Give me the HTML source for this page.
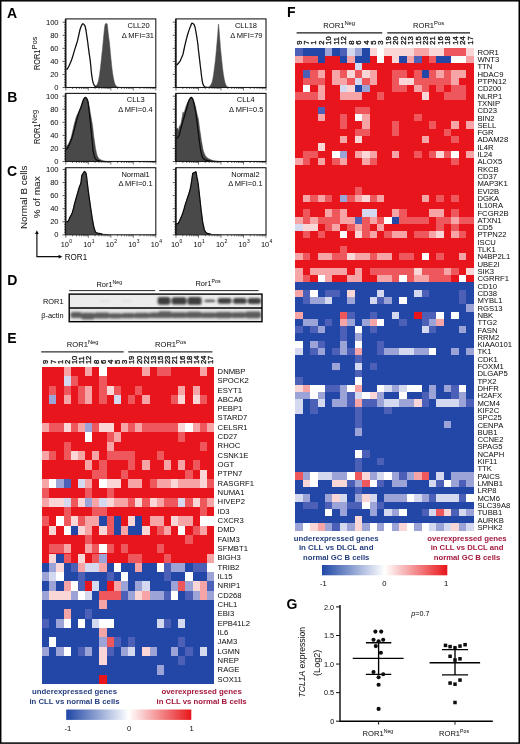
<!DOCTYPE html>
<html lang="en"><head><meta charset="utf-8"><title>ROR1 figure</title>
<style>html,body{margin:0;padding:0;background:#fff}svg{display:block}</style></head>
<body>
<svg width="520" height="744" viewBox="0 0 520 744" font-family='"Liberation Sans", Arial, Helvetica, sans-serif'>
<defs><filter id="soft" filterUnits="userSpaceOnUse" x="2" y="2" width="516" height="740"><feGaussianBlur stdDeviation="0.38"/></filter><filter id="bl" x="-10%" y="-50%" width="120%" height="200%"><feGaussianBlur stdDeviation="0.95"/></filter><linearGradient id="cb" x1="0" x2="1" y1="0" y2="0"><stop offset="0" stop-color="#2047a6"/><stop offset="0.5" stop-color="#ffffff"/><stop offset="1" stop-color="#e8161a"/></linearGradient></defs>
<rect x="0" y="0" width="520" height="744" fill="#ffffff"/>
<rect x="0.7" y="0.8" width="518.55" height="742.3" fill="none" stroke="#000" stroke-width="1.5"/>
<g filter="url(#soft)">
<text x="7.00" y="17.80" font-size="14" font-weight="bold" fill="#000">A</text>
<text x="7.30" y="102.30" font-size="14" font-weight="bold" fill="#000">B</text>
<text x="7.00" y="176.30" font-size="14" font-weight="bold" fill="#000">C</text>
<text x="7.30" y="285.30" font-size="14" font-weight="bold" fill="#000">D</text>
<text x="7.30" y="342.50" font-size="14" font-weight="bold" fill="#000">E</text>
<text x="287.00" y="17.40" font-size="14" font-weight="bold" fill="#000">F</text>
<text x="286.50" y="609.00" font-size="14" font-weight="bold" fill="#000">G</text>
<clipPath id="cpA1"><rect x="65.8" y="18.9" width="90.0" height="68.6"/></clipPath>
<g clip-path="url(#cpA1)">
<path d="M93.0,87.6 L95.4,86.5 L96.7,85.2 L97.8,83.0 L98.7,79.5 L99.5,75.0 L100.4,68.0 L101.2,61.1 L101.8,55.0 L102.4,49.6 L103.0,43.5 L103.5,38.0 L104.1,32.0 L104.7,26.5 L105.2,24.2 L105.8,23.4 L106.6,23.4 L107.2,24.2 L107.7,28.0 L108.1,32.3 L108.7,37.0 L109.3,41.5 L109.9,47.0 L110.4,53.0 L111.1,60.0 L111.8,66.9 L112.5,72.5 L113.3,77.3 L114.1,81.2 L115.0,84.2 L116.2,86.0 L117.6,86.9 L120.0,87.6 Z" fill="#4a4a4a" stroke="#4a4a4a" stroke-width="0.5" stroke-linejoin="round"/>
<path d="M66.3,69.0 L67.4,69.0 L69.2,65.5 L71.2,61.1 L73.0,55.5 L74.7,49.6 L76.2,45.0 L77.6,40.4 L78.8,35.0 L79.9,30.0 L80.8,27.2 L81.6,25.4 L82.4,24.2 L83.0,23.6 L84.1,24.6 L85.1,26.2 L86.0,30.5 L86.8,35.8 L87.7,42.0 L88.5,48.4 L89.4,54.8 L90.3,61.1 L90.9,67.0 L91.4,72.7 L92.0,77.0 L92.6,80.7 L93.4,83.5 L94.3,85.4 L95.4,86.5 L96.6,87.1 L99.0,87.3" fill="none" stroke="#0a0a0a" stroke-width="1.25" stroke-linejoin="round"/>
</g>
<rect x="65.8" y="18.9" width="90.0" height="68.6" fill="none" stroke="#1a1a1a" stroke-width="1.1"/>
<path d="M65.5,18.9V87.5" stroke="#1a1a1a" stroke-width="1.5"/>
<path d="M62.6,87.50H65.8M64.2,84.89H65.8M64.2,82.28H65.8M64.2,79.66H65.8M64.2,77.05H65.8M62.6,74.44H65.8M64.2,71.83H65.8M64.2,69.22H65.8M64.2,66.60H65.8M64.2,63.99H65.8M62.6,61.38H65.8M64.2,58.77H65.8M64.2,56.16H65.8M64.2,53.54H65.8M64.2,50.93H65.8M62.6,48.32H65.8M64.2,45.71H65.8M64.2,43.10H65.8M64.2,40.48H65.8M64.2,37.87H65.8M62.6,35.26H65.8M64.2,32.65H65.8M64.2,30.04H65.8M64.2,27.42H65.8M64.2,24.81H65.8M62.6,22.20H65.8" stroke="#1a1a1a" stroke-width="0.7" fill="none"/>
<path d="M65.80,87.5v3.0M72.57,87.5v1.5M76.54,87.5v1.5M79.35,87.5v1.5M81.53,87.5v1.5M83.31,87.5v1.5M84.81,87.5v1.5M86.12,87.5v1.5M87.27,87.5v1.5M88.30,87.5v3.0M95.07,87.5v1.5M99.04,87.5v1.5M101.85,87.5v1.5M104.03,87.5v1.5M105.81,87.5v1.5M107.31,87.5v1.5M108.62,87.5v1.5M109.77,87.5v1.5M110.80,87.5v3.0M117.57,87.5v1.5M121.54,87.5v1.5M124.35,87.5v1.5M126.53,87.5v1.5M128.31,87.5v1.5M129.81,87.5v1.5M131.12,87.5v1.5M132.27,87.5v1.5M133.30,87.5v3.0M140.07,87.5v1.5M144.04,87.5v1.5M146.85,87.5v1.5M149.03,87.5v1.5M150.81,87.5v1.5M152.31,87.5v1.5M153.62,87.5v1.5M154.77,87.5v1.5M155.80,87.5v3" stroke="#1a1a1a" stroke-width="0.6" fill="none"/>
<text x="58.60" y="89.95" font-size="7.6" text-anchor="end" fill="#0c0c0c">0</text>
<text x="58.60" y="76.89" font-size="7.6" text-anchor="end" fill="#0c0c0c">20</text>
<text x="58.60" y="63.83" font-size="7.6" text-anchor="end" fill="#0c0c0c">40</text>
<text x="58.60" y="50.77" font-size="7.6" text-anchor="end" fill="#0c0c0c">60</text>
<text x="58.60" y="37.71" font-size="7.6" text-anchor="end" fill="#0c0c0c">80</text>
<text x="58.60" y="24.65" font-size="7.6" text-anchor="end" fill="#0c0c0c">100</text>
<text x="149.60" y="27.80" font-size="7.5" text-anchor="end" fill="#0c0c0c">CLL20</text>
<text x="154.00" y="37.50" font-size="7.5" text-anchor="end" fill="#0c0c0c">Δ MFI=31</text>
<clipPath id="cpA2"><rect x="176.0" y="18.9" width="90.0" height="68.6"/></clipPath>
<g clip-path="url(#cpA2)">
<path d="M206.5,87.6 L208.9,87.0 L210.4,85.4 L211.8,83.0 L212.7,79.5 L213.5,75.0 L214.4,68.0 L215.3,61.1 L215.9,55.0 L216.4,49.6 L217.0,42.5 L217.6,35.8 L218.1,29.0 L218.5,24.0 L219.0,29.0 L219.5,35.8 L220.0,41.5 L220.4,47.3 L221.1,54.0 L221.8,61.1 L222.5,67.5 L223.3,73.8 L224.2,79.0 L225.1,83.0 L226.2,85.6 L227.4,87.0 L229.5,87.6 Z" fill="#4a4a4a" stroke="#4a4a4a" stroke-width="0.5" stroke-linejoin="round"/>
<path d="M176.0,64.8 L177.2,64.6 L178.6,63.0 L180.1,61.1 L181.6,57.8 L183.0,54.2 L183.9,50.0 L184.7,46.1 L185.6,42.5 L186.4,39.2 L187.5,35.0 L188.7,31.1 L189.6,28.6 L190.5,26.5 L191.2,24.5 L191.8,23.2 L193.2,23.6 L194.5,25.4 L195.1,27.5 L195.6,30.0 L196.2,33.3 L196.8,36.9 L197.4,41.0 L198.0,45.0 L198.3,49.0 L199.1,55.4 L199.7,60.5 L200.3,65.7 L200.9,70.5 L201.4,75.0 L202.0,79.3 L202.6,83.0 L203.4,85.2 L204.3,86.5 L205.4,87.2 L208.0,87.5" fill="none" stroke="#0a0a0a" stroke-width="1.25" stroke-linejoin="round"/>
</g>
<rect x="176.0" y="18.9" width="90.0" height="68.6" fill="none" stroke="#1a1a1a" stroke-width="1.1"/>
<path d="M175.7,18.9V87.5" stroke="#1a1a1a" stroke-width="1.5"/>
<path d="M172.8,87.50H176.0M174.4,84.89H176.0M174.4,82.28H176.0M174.4,79.66H176.0M174.4,77.05H176.0M172.8,74.44H176.0M174.4,71.83H176.0M174.4,69.22H176.0M174.4,66.60H176.0M174.4,63.99H176.0M172.8,61.38H176.0M174.4,58.77H176.0M174.4,56.16H176.0M174.4,53.54H176.0M174.4,50.93H176.0M172.8,48.32H176.0M174.4,45.71H176.0M174.4,43.10H176.0M174.4,40.48H176.0M174.4,37.87H176.0M172.8,35.26H176.0M174.4,32.65H176.0M174.4,30.04H176.0M174.4,27.42H176.0M174.4,24.81H176.0M172.8,22.20H176.0" stroke="#1a1a1a" stroke-width="0.7" fill="none"/>
<path d="M176.00,87.5v3.0M182.77,87.5v1.5M186.74,87.5v1.5M189.55,87.5v1.5M191.73,87.5v1.5M193.51,87.5v1.5M195.01,87.5v1.5M196.32,87.5v1.5M197.47,87.5v1.5M198.50,87.5v3.0M205.27,87.5v1.5M209.24,87.5v1.5M212.05,87.5v1.5M214.23,87.5v1.5M216.01,87.5v1.5M217.51,87.5v1.5M218.82,87.5v1.5M219.97,87.5v1.5M221.00,87.5v3.0M227.77,87.5v1.5M231.74,87.5v1.5M234.55,87.5v1.5M236.73,87.5v1.5M238.51,87.5v1.5M240.01,87.5v1.5M241.32,87.5v1.5M242.47,87.5v1.5M243.50,87.5v3.0M250.27,87.5v1.5M254.24,87.5v1.5M257.05,87.5v1.5M259.23,87.5v1.5M261.01,87.5v1.5M262.51,87.5v1.5M263.82,87.5v1.5M264.97,87.5v1.5M266.00,87.5v3" stroke="#1a1a1a" stroke-width="0.6" fill="none"/>
<text x="257.00" y="27.80" font-size="7.5" text-anchor="end" fill="#0c0c0c">CLL18</text>
<text x="262.50" y="37.50" font-size="7.5" text-anchor="end" fill="#0c0c0c">Δ MFI=79</text>
<clipPath id="cpB1"><rect x="65.8" y="93.4" width="90.0" height="68.1"/></clipPath>
<g clip-path="url(#cpB1)">
<path d="M66.3,161.8 L66.3,146.5 L68.3,144.2 L69.8,141.0 L71.2,137.3 L72.7,131.0 L74.1,124.6 L75.3,120.3 L76.4,116.5 L77.6,114.0 L78.7,111.9 L79.9,109.0 L81.0,106.1 L82.2,102.5 L83.3,99.2 L84.2,97.8 L85.1,97.1 L86.0,97.4 L86.8,98.1 L87.7,100.0 L88.5,102.7 L89.4,107.5 L90.3,113.1 L91.3,118.3 L92.2,123.4 L93.0,129.5 L93.7,136.1 L94.6,142.0 L95.4,147.7 L96.3,152.2 L97.2,155.7 L98.3,157.8 L99.5,159.2 L102.4,160.6 L105.8,161.3 L109.0,161.8 Z" fill="#4a4a4a" stroke="#4a4a4a" stroke-width="0.5" stroke-linejoin="round"/>
<path d="M66.3,150.0 L67.6,148.0 L68.9,145.4 L70.4,142.0 L71.8,138.4 L73.0,134.5 L74.1,130.4 L75.3,125.8 L76.4,121.1 L77.6,117.0 L78.7,113.1 L79.9,110.0 L81.0,107.3 L81.9,104.5 L82.8,101.5 L83.7,99.4 L84.5,98.0 L85.4,97.5 L86.2,97.8 L87.1,99.3 L88.0,101.8 L88.7,107.0 L89.4,113.1 L90.1,120.0 L90.8,126.9 L91.4,133.0 L92.0,139.6 L92.6,145.5 L93.1,151.1 L94.0,155.2 L94.9,158.0 L96.0,159.5 L97.2,160.4 L100.6,161.2" fill="none" stroke="#0a0a0a" stroke-width="1.25" stroke-linejoin="round"/>
</g>
<rect x="65.8" y="93.4" width="90.0" height="68.1" fill="none" stroke="#1a1a1a" stroke-width="1.1"/>
<path d="M65.5,93.4V161.5" stroke="#1a1a1a" stroke-width="1.5"/>
<path d="M62.6,161.50H65.8M64.2,158.89H65.8M64.2,156.28H65.8M64.2,153.66H65.8M64.2,151.05H65.8M62.6,148.44H65.8M64.2,145.83H65.8M64.2,143.22H65.8M64.2,140.60H65.8M64.2,137.99H65.8M62.6,135.38H65.8M64.2,132.77H65.8M64.2,130.16H65.8M64.2,127.54H65.8M64.2,124.93H65.8M62.6,122.32H65.8M64.2,119.71H65.8M64.2,117.10H65.8M64.2,114.48H65.8M64.2,111.87H65.8M62.6,109.26H65.8M64.2,106.65H65.8M64.2,104.04H65.8M64.2,101.42H65.8M64.2,98.81H65.8M62.6,96.20H65.8" stroke="#1a1a1a" stroke-width="0.7" fill="none"/>
<path d="M65.80,161.5v3.0M72.57,161.5v1.5M76.54,161.5v1.5M79.35,161.5v1.5M81.53,161.5v1.5M83.31,161.5v1.5M84.81,161.5v1.5M86.12,161.5v1.5M87.27,161.5v1.5M88.30,161.5v3.0M95.07,161.5v1.5M99.04,161.5v1.5M101.85,161.5v1.5M104.03,161.5v1.5M105.81,161.5v1.5M107.31,161.5v1.5M108.62,161.5v1.5M109.77,161.5v1.5M110.80,161.5v3.0M117.57,161.5v1.5M121.54,161.5v1.5M124.35,161.5v1.5M126.53,161.5v1.5M128.31,161.5v1.5M129.81,161.5v1.5M131.12,161.5v1.5M132.27,161.5v1.5M133.30,161.5v3.0M140.07,161.5v1.5M144.04,161.5v1.5M146.85,161.5v1.5M149.03,161.5v1.5M150.81,161.5v1.5M152.31,161.5v1.5M153.62,161.5v1.5M154.77,161.5v1.5M155.80,161.5v3" stroke="#1a1a1a" stroke-width="0.6" fill="none"/>
<text x="58.60" y="163.95" font-size="7.6" text-anchor="end" fill="#0c0c0c">0</text>
<text x="58.60" y="150.89" font-size="7.6" text-anchor="end" fill="#0c0c0c">20</text>
<text x="58.60" y="137.83" font-size="7.6" text-anchor="end" fill="#0c0c0c">40</text>
<text x="58.60" y="124.77" font-size="7.6" text-anchor="end" fill="#0c0c0c">60</text>
<text x="58.60" y="111.71" font-size="7.6" text-anchor="end" fill="#0c0c0c">80</text>
<text x="58.60" y="98.65" font-size="7.6" text-anchor="end" fill="#0c0c0c">100</text>
<text x="144.80" y="102.30" font-size="7.5" text-anchor="end" fill="#0c0c0c">CLL3</text>
<text x="152.60" y="112.00" font-size="7.5" text-anchor="end" fill="#0c0c0c">Δ MFI=0.4</text>
<clipPath id="cpB2"><rect x="176.0" y="93.4" width="90.0" height="68.1"/></clipPath>
<g clip-path="url(#cpB2)">
<path d="M176.0,161.8 L176.0,129.2 L177.8,128.0 L178.4,131.0 L179.5,125.8 L180.3,126.0 L181.2,122.3 L182.2,117.0 L183.0,111.9 L183.8,113.5 L184.7,110.8 L185.8,107.0 L187.0,103.8 L188.2,101.2 L189.3,99.2 L190.2,97.9 L191.0,97.1 L191.9,97.6 L192.8,98.7 L194.0,101.5 L195.1,105.0 L196.0,109.0 L196.8,113.1 L197.7,116.5 L198.5,120.0 L199.1,124.5 L199.7,129.2 L200.6,135.0 L201.4,140.8 L202.3,145.5 L203.1,150.0 L204.2,153.2 L205.4,155.7 L206.8,157.4 L208.3,158.6 L212.4,160.4 L218.1,161.3 L222.0,161.8 Z" fill="#4a4a4a" stroke="#4a4a4a" stroke-width="0.5" stroke-linejoin="round"/>
<path d="M176.0,138.6 L177.6,137.6 L178.9,136.1 L179.8,133.0 L180.7,129.2 L181.8,125.0 L183.0,121.1 L184.2,117.0 L185.3,113.1 L186.5,109.0 L187.6,105.0 L188.5,102.0 L189.3,99.8 L190.2,98.2 L191.0,97.4 L191.9,97.9 L192.8,99.2 L193.7,102.3 L194.5,106.1 L195.4,110.5 L196.2,115.4 L196.9,121.0 L197.6,126.9 L198.4,133.0 L199.1,139.6 L199.9,145.0 L200.6,150.0 L201.4,154.0 L202.2,156.9 L203.5,158.8 L204.9,159.8 L208.9,160.9 L213.0,161.3" fill="none" stroke="#0a0a0a" stroke-width="1.25" stroke-linejoin="round"/>
</g>
<rect x="176.0" y="93.4" width="90.0" height="68.1" fill="none" stroke="#1a1a1a" stroke-width="1.1"/>
<path d="M175.7,93.4V161.5" stroke="#1a1a1a" stroke-width="1.5"/>
<path d="M172.8,161.50H176.0M174.4,158.89H176.0M174.4,156.28H176.0M174.4,153.66H176.0M174.4,151.05H176.0M172.8,148.44H176.0M174.4,145.83H176.0M174.4,143.22H176.0M174.4,140.60H176.0M174.4,137.99H176.0M172.8,135.38H176.0M174.4,132.77H176.0M174.4,130.16H176.0M174.4,127.54H176.0M174.4,124.93H176.0M172.8,122.32H176.0M174.4,119.71H176.0M174.4,117.10H176.0M174.4,114.48H176.0M174.4,111.87H176.0M172.8,109.26H176.0M174.4,106.65H176.0M174.4,104.04H176.0M174.4,101.42H176.0M174.4,98.81H176.0M172.8,96.20H176.0" stroke="#1a1a1a" stroke-width="0.7" fill="none"/>
<path d="M176.00,161.5v3.0M182.77,161.5v1.5M186.74,161.5v1.5M189.55,161.5v1.5M191.73,161.5v1.5M193.51,161.5v1.5M195.01,161.5v1.5M196.32,161.5v1.5M197.47,161.5v1.5M198.50,161.5v3.0M205.27,161.5v1.5M209.24,161.5v1.5M212.05,161.5v1.5M214.23,161.5v1.5M216.01,161.5v1.5M217.51,161.5v1.5M218.82,161.5v1.5M219.97,161.5v1.5M221.00,161.5v3.0M227.77,161.5v1.5M231.74,161.5v1.5M234.55,161.5v1.5M236.73,161.5v1.5M238.51,161.5v1.5M240.01,161.5v1.5M241.32,161.5v1.5M242.47,161.5v1.5M243.50,161.5v3.0M250.27,161.5v1.5M254.24,161.5v1.5M257.05,161.5v1.5M259.23,161.5v1.5M261.01,161.5v1.5M262.51,161.5v1.5M263.82,161.5v1.5M264.97,161.5v1.5M266.00,161.5v3" stroke="#1a1a1a" stroke-width="0.6" fill="none"/>
<text x="254.80" y="102.30" font-size="7.5" text-anchor="end" fill="#0c0c0c">CLL4</text>
<text x="263.40" y="112.00" font-size="7.5" text-anchor="end" fill="#0c0c0c">Δ MFI=0.5</text>
<clipPath id="cpC1"><rect x="65.8" y="167.7" width="90.0" height="67.10000000000002"/></clipPath>
<g clip-path="url(#cpC1)">
<path d="M66.3,234.8 L66.3,221.7 L67.8,221.7 L69.0,219.5 L70.1,217.1 L71.3,214.8 L72.4,212.4 L73.6,208.0 L74.7,203.2 L75.9,199.0 L77.0,195.1 L78.2,191.0 L79.3,187.1 L80.2,185.0 L81.0,182.5 L81.4,179.0 L81.8,175.5 L82.6,174.2 L83.3,173.2 L83.9,172.2 L84.5,171.4 L85.4,172.3 L86.2,173.8 L86.7,177.5 L87.1,181.3 L87.8,187.0 L88.5,192.8 L89.4,199.0 L90.3,205.5 L91.2,211.5 L92.0,217.1 L92.9,222.0 L93.7,226.3 L94.6,229.5 L95.4,232.0 L96.6,232.8 L97.8,233.2 L102.4,234.1 L108.1,234.6 Z" fill="#4a4a4a" stroke="#4a4a4a" stroke-width="0.5" stroke-linejoin="round"/>
<path d="M66.3,221.7 L67.8,221.7 L69.0,219.5 L70.1,217.1 L71.3,214.8 L72.4,212.4 L73.6,208.0 L74.7,203.2 L75.9,199.0 L77.0,195.1 L78.2,191.0 L79.3,187.1 L80.2,185.0 L81.0,182.5 L81.4,179.0 L81.8,175.5 L82.6,174.2 L83.3,173.2 L83.9,172.2 L84.5,171.4 L85.4,172.3 L86.2,173.8 L86.7,177.5 L87.1,181.3 L87.8,187.0 L88.5,192.8 L89.4,199.0 L90.3,205.5 L91.2,211.5 L92.0,217.1 L92.9,222.0 L93.7,226.3 L94.6,229.5 L95.4,232.0 L96.6,232.8 L97.8,233.2 L102.4,234.1" fill="none" stroke="#0a0a0a" stroke-width="1.25" stroke-linejoin="round"/>
</g>
<rect x="65.8" y="167.7" width="90.0" height="67.10000000000002" fill="none" stroke="#1a1a1a" stroke-width="1.1"/>
<path d="M65.5,167.7V234.8" stroke="#1a1a1a" stroke-width="1.5"/>
<path d="M62.6,234.80H65.8M64.2,232.19H65.8M64.2,229.58H65.8M64.2,226.96H65.8M64.2,224.35H65.8M62.6,221.74H65.8M64.2,219.13H65.8M64.2,216.52H65.8M64.2,213.90H65.8M64.2,211.29H65.8M62.6,208.68H65.8M64.2,206.07H65.8M64.2,203.46H65.8M64.2,200.84H65.8M64.2,198.23H65.8M62.6,195.62H65.8M64.2,193.01H65.8M64.2,190.40H65.8M64.2,187.78H65.8M64.2,185.17H65.8M62.6,182.56H65.8M64.2,179.95H65.8M64.2,177.34H65.8M64.2,174.72H65.8M64.2,172.11H65.8M62.6,169.50H65.8" stroke="#1a1a1a" stroke-width="0.7" fill="none"/>
<path d="M65.80,234.8v3.0M72.57,234.8v1.5M76.54,234.8v1.5M79.35,234.8v1.5M81.53,234.8v1.5M83.31,234.8v1.5M84.81,234.8v1.5M86.12,234.8v1.5M87.27,234.8v1.5M88.30,234.8v3.0M95.07,234.8v1.5M99.04,234.8v1.5M101.85,234.8v1.5M104.03,234.8v1.5M105.81,234.8v1.5M107.31,234.8v1.5M108.62,234.8v1.5M109.77,234.8v1.5M110.80,234.8v3.0M117.57,234.8v1.5M121.54,234.8v1.5M124.35,234.8v1.5M126.53,234.8v1.5M128.31,234.8v1.5M129.81,234.8v1.5M131.12,234.8v1.5M132.27,234.8v1.5M133.30,234.8v3.0M140.07,234.8v1.5M144.04,234.8v1.5M146.85,234.8v1.5M149.03,234.8v1.5M150.81,234.8v1.5M152.31,234.8v1.5M153.62,234.8v1.5M154.77,234.8v1.5M155.80,234.8v3" stroke="#1a1a1a" stroke-width="0.6" fill="none"/>
<text x="58.60" y="237.25" font-size="7.6" text-anchor="end" fill="#0c0c0c">0</text>
<text x="58.60" y="224.19" font-size="7.6" text-anchor="end" fill="#0c0c0c">20</text>
<text x="58.60" y="211.13" font-size="7.6" text-anchor="end" fill="#0c0c0c">40</text>
<text x="58.60" y="198.07" font-size="7.6" text-anchor="end" fill="#0c0c0c">60</text>
<text x="58.60" y="185.01" font-size="7.6" text-anchor="end" fill="#0c0c0c">80</text>
<text x="58.60" y="171.95" font-size="7.6" text-anchor="end" fill="#0c0c0c">100</text>
<text x="149.80" y="176.60" font-size="7.5" text-anchor="end" fill="#0c0c0c">Normal1</text>
<text x="152.80" y="186.30" font-size="7.5" text-anchor="end" fill="#0c0c0c">Δ MFI=0.1</text>
<clipPath id="cpC2"><rect x="176.0" y="167.7" width="90.0" height="67.10000000000002"/></clipPath>
<g clip-path="url(#cpC2)">
<path d="M176.0,234.8 L176.0,224.0 L178.3,223.4 L179.5,221.0 L180.7,218.2 L181.9,215.5 L183.0,212.4 L184.2,208.5 L185.3,204.4 L186.5,201.0 L187.6,197.4 L188.8,194.0 L189.9,190.5 L190.8,186.0 L191.6,181.3 L192.2,177.0 L192.8,173.2 L193.7,172.8 L194.5,172.7 L195.2,172.1 L195.9,171.7 L196.4,174.0 L196.8,176.7 L197.6,180.5 L198.3,184.8 L199.0,191.0 L199.7,197.4 L200.4,203.5 L201.1,210.1 L201.9,216.0 L202.6,221.7 L203.5,226.0 L204.3,229.7 L205.5,231.8 L206.6,233.2 L211.2,234.4 L218.1,234.6 Z" fill="#4a4a4a" stroke="#4a4a4a" stroke-width="0.5" stroke-linejoin="round"/>
<path d="M176.0,224.0 L178.3,223.4 L179.5,221.0 L180.7,218.2 L181.9,215.5 L183.0,212.4 L184.2,208.5 L185.3,204.4 L186.5,201.0 L187.6,197.4 L188.8,194.0 L189.9,190.5 L190.8,186.0 L191.6,181.3 L192.2,177.0 L192.8,173.2 L193.7,172.8 L194.5,172.7 L195.2,172.1 L195.9,171.7 L196.4,174.0 L196.8,176.7 L197.6,180.5 L198.3,184.8 L199.0,191.0 L199.7,197.4 L200.4,203.5 L201.1,210.1 L201.9,216.0 L202.6,221.7 L203.5,226.0 L204.3,229.7 L205.5,231.8 L206.6,233.2 L211.2,234.4" fill="none" stroke="#0a0a0a" stroke-width="1.25" stroke-linejoin="round"/>
</g>
<rect x="176.0" y="167.7" width="90.0" height="67.10000000000002" fill="none" stroke="#1a1a1a" stroke-width="1.1"/>
<path d="M175.7,167.7V234.8" stroke="#1a1a1a" stroke-width="1.5"/>
<path d="M172.8,234.80H176.0M174.4,232.19H176.0M174.4,229.58H176.0M174.4,226.96H176.0M174.4,224.35H176.0M172.8,221.74H176.0M174.4,219.13H176.0M174.4,216.52H176.0M174.4,213.90H176.0M174.4,211.29H176.0M172.8,208.68H176.0M174.4,206.07H176.0M174.4,203.46H176.0M174.4,200.84H176.0M174.4,198.23H176.0M172.8,195.62H176.0M174.4,193.01H176.0M174.4,190.40H176.0M174.4,187.78H176.0M174.4,185.17H176.0M172.8,182.56H176.0M174.4,179.95H176.0M174.4,177.34H176.0M174.4,174.72H176.0M174.4,172.11H176.0M172.8,169.50H176.0" stroke="#1a1a1a" stroke-width="0.7" fill="none"/>
<path d="M176.00,234.8v3.0M182.77,234.8v1.5M186.74,234.8v1.5M189.55,234.8v1.5M191.73,234.8v1.5M193.51,234.8v1.5M195.01,234.8v1.5M196.32,234.8v1.5M197.47,234.8v1.5M198.50,234.8v3.0M205.27,234.8v1.5M209.24,234.8v1.5M212.05,234.8v1.5M214.23,234.8v1.5M216.01,234.8v1.5M217.51,234.8v1.5M218.82,234.8v1.5M219.97,234.8v1.5M221.00,234.8v3.0M227.77,234.8v1.5M231.74,234.8v1.5M234.55,234.8v1.5M236.73,234.8v1.5M238.51,234.8v1.5M240.01,234.8v1.5M241.32,234.8v1.5M242.47,234.8v1.5M243.50,234.8v3.0M250.27,234.8v1.5M254.24,234.8v1.5M257.05,234.8v1.5M259.23,234.8v1.5M261.01,234.8v1.5M262.51,234.8v1.5M263.82,234.8v1.5M264.97,234.8v1.5M266.00,234.8v3" stroke="#1a1a1a" stroke-width="0.6" fill="none"/>
<text x="259.60" y="176.60" font-size="7.5" text-anchor="end" fill="#0c0c0c">Normal2</text>
<text x="262.60" y="186.30" font-size="7.5" text-anchor="end" fill="#0c0c0c">Δ MFI=0.1</text>
<text x="60.70" y="246.6" font-size="7.4" fill="#0c0c0c">10<tspan dy="-3.3" dx="0.3" font-size="5">0</tspan></text>
<text x="83.20" y="246.6" font-size="7.4" fill="#0c0c0c">10<tspan dy="-3.3" dx="0.3" font-size="5">1</tspan></text>
<text x="105.70" y="246.6" font-size="7.4" fill="#0c0c0c">10<tspan dy="-3.3" dx="0.3" font-size="5">2</tspan></text>
<text x="128.20" y="246.6" font-size="7.4" fill="#0c0c0c">10<tspan dy="-3.3" dx="0.3" font-size="5">3</tspan></text>
<text x="150.70" y="246.6" font-size="7.4" fill="#0c0c0c">10<tspan dy="-3.3" dx="0.3" font-size="5">4</tspan></text>
<text x="170.90" y="246.6" font-size="7.4" fill="#0c0c0c">10<tspan dy="-3.3" dx="0.3" font-size="5">0</tspan></text>
<text x="193.40" y="246.6" font-size="7.4" fill="#0c0c0c">10<tspan dy="-3.3" dx="0.3" font-size="5">1</tspan></text>
<text x="215.90" y="246.6" font-size="7.4" fill="#0c0c0c">10<tspan dy="-3.3" dx="0.3" font-size="5">2</tspan></text>
<text x="238.40" y="246.6" font-size="7.4" fill="#0c0c0c">10<tspan dy="-3.3" dx="0.3" font-size="5">3</tspan></text>
<text x="260.90" y="246.6" font-size="7.4" fill="#0c0c0c">10<tspan dy="-3.3" dx="0.3" font-size="5">4</tspan></text>
<text transform="translate(40.3,70.0) rotate(-90)" font-size="9.3" fill="#0c0c0c" textLength="20.4" lengthAdjust="spacingAndGlyphs">ROR1</text>
<text transform="translate(36.6,49.2) rotate(-90)" font-size="6.9" fill="#0c0c0c" textLength="12.6" lengthAdjust="spacingAndGlyphs">Pos</text>
<text transform="translate(40.3,144.0) rotate(-90)" font-size="9.3" fill="#0c0c0c" textLength="20.4" lengthAdjust="spacingAndGlyphs">ROR1</text>
<text transform="translate(36.6,123.19999999999999) rotate(-90)" font-size="6.9" fill="#0c0c0c" textLength="13.2" lengthAdjust="spacingAndGlyphs">Neg</text>
<text transform="translate(27.20,197.30) rotate(-90)" font-size="9.3" text-anchor="middle" textLength="63.60" lengthAdjust="spacingAndGlyphs" fill="#0c0c0c">Normal B cells</text>
<text transform="translate(40.00,197.30) rotate(-90)" font-size="9.2" text-anchor="middle" textLength="42.00" lengthAdjust="spacingAndGlyphs" fill="#0c0c0c">% of max</text>
<path d="M36.9,233V256.7H59.5" fill="none" stroke="#111" stroke-width="1.2"/>
<path d="M36.9,230.2l-1.9,3.8h3.8z M62.4,256.7l-3.8,-1.9v3.8z" fill="#111"/>
<text x="64.80" y="260.20" font-size="9.4" textLength="22.30" lengthAdjust="spacingAndGlyphs" fill="#0c0c0c">ROR1</text>
<text x="96.50" y="286.60" font-size="7.4" fill="#0c0c0c">Ror1<tspan dy="-3" font-size="5.2">Neg</tspan></text>
<text x="195.50" y="286.40" font-size="7.4" fill="#0c0c0c">Ror1<tspan dy="-3" font-size="5.2">Pos</tspan></text>
<path d="M69.2,290.6H155.2M159.2,290.6H258.5" stroke="#111" stroke-width="0.9" fill="none"/>
<text x="63.50" y="303.90" font-size="7.4" text-anchor="end" fill="#0c0c0c">ROR1</text>
<text x="63.50" y="317.90" font-size="7.4" text-anchor="end" fill="#0c0c0c">β-actin</text>
<clipPath id="cpD1"><rect x="69.2" y="294.1" width="192.8" height="13.9"/></clipPath>
<clipPath id="cpD2"><rect x="69.2" y="308" width="192.8" height="13.7"/></clipPath>
<rect x="69.2" y="294.1" width="192.8" height="13.9" fill="#ececec"/>
<rect x="69.2" y="308" width="192.8" height="13.7" fill="#e4e4e4"/>
<g clip-path="url(#cpD1)" filter="url(#bl)">
<rect x="157.6" y="297.10" width="12.8" height="7.6" rx="2.6" fill="#3c3c3c"/>
<rect x="171.6" y="297.20" width="15.0" height="7.4" rx="2.6" fill="#3c3c3c"/>
<rect x="187.6" y="297.00" width="14.0" height="7.8" rx="2.6" fill="#3c3c3c"/>
<rect x="204.6" y="299.70" width="10.4" height="2.4" rx="1.2" fill="#4a4a4a"/>
<rect x="217.6" y="298.10" width="14.0" height="5.6" rx="2.6" fill="#404040"/>
<rect x="233" y="298.00" width="13.6" height="5.8" rx="2.6" fill="#404040"/>
<rect x="247.6" y="297.90" width="13.4" height="6.0" rx="2.6" fill="#404040"/>
<rect x="100" y="300.2" width="10" height="1.6" fill="#dcdcdc"/>
<rect x="122" y="300.2" width="9" height="1.6" fill="#dcdcdc"/>
</g>
<g clip-path="url(#cpD2)" filter="url(#bl)">
<rect x="70.5" y="312.10" width="11.5" height="6.0" rx="2.6" fill="#5c5c5c"/>
<rect x="81" y="312.80" width="14.0" height="6.6" rx="2.6" fill="#5c5c5c"/>
<rect x="94" y="312.60" width="16.0" height="5.8" rx="2.6" fill="#5c5c5c"/>
<rect x="109" y="313.30" width="13.0" height="5.199999999999999" rx="2.6" fill="#5c5c5c"/>
<rect x="121" y="313.10" width="14.0" height="5.199999999999999" rx="2.6" fill="#5c5c5c"/>
<rect x="134" y="312.70" width="16.0" height="5.6" rx="2.6" fill="#5c5c5c"/>
<rect x="149" y="312.50" width="11.0" height="5.6" rx="2.6" fill="#5c5c5c"/>
<rect x="158" y="311.30" width="14.0" height="6.8" rx="2.6" fill="#5c5c5c"/>
<rect x="171" y="312.20" width="16.0" height="5.8" rx="2.6" fill="#5c5c5c"/>
<rect x="186" y="311.70" width="16.0" height="6.3999999999999995" rx="2.6" fill="#5c5c5c"/>
<rect x="201" y="312.50" width="15.0" height="5.6" rx="2.6" fill="#5c5c5c"/>
<rect x="215" y="312.00" width="17.0" height="6.199999999999999" rx="2.6" fill="#5c5c5c"/>
<rect x="231" y="312.20" width="15.0" height="5.8" rx="2.6" fill="#5c5c5c"/>
<rect x="245" y="311.60" width="16.0" height="6.6" rx="2.6" fill="#5c5c5c"/>
</g>
<rect x="69.2" y="294.1" width="192.8" height="27.6" fill="none" stroke="#000" stroke-width="1.4"/>
<path d="M69.2,308H262" stroke="#000" stroke-width="1.4"/>
<path d="M41.2,351.9H123.7M128.2,351.9H212.4" stroke="#333" stroke-width="1.2" fill="none"/>
<text transform="translate(48.38,364.1) rotate(-90)" font-size="7.6" fill="#0c0c0c" stroke="#0c0c0c" stroke-width="0.3">9</text>
<text transform="translate(55.55,364.1) rotate(-90)" font-size="7.6" fill="#0c0c0c" stroke="#0c0c0c" stroke-width="0.3">7</text>
<text transform="translate(62.71,364.1) rotate(-90)" font-size="7.6" fill="#0c0c0c" stroke="#0c0c0c" stroke-width="0.3">1</text>
<text transform="translate(69.88,364.1) rotate(-90)" font-size="7.6" fill="#0c0c0c" stroke="#0c0c0c" stroke-width="0.3">2</text>
<text transform="translate(77.04,364.1) rotate(-90)" font-size="7.6" fill="#0c0c0c" stroke="#0c0c0c" stroke-width="0.3">10</text>
<text transform="translate(84.21,364.1) rotate(-90)" font-size="7.6" fill="#0c0c0c" stroke="#0c0c0c" stroke-width="0.3">11</text>
<text transform="translate(91.37,364.1) rotate(-90)" font-size="7.6" fill="#0c0c0c" stroke="#0c0c0c" stroke-width="0.3">12</text>
<text transform="translate(98.54,364.1) rotate(-90)" font-size="7.6" fill="#0c0c0c" stroke="#0c0c0c" stroke-width="0.3">8</text>
<text transform="translate(105.70,364.1) rotate(-90)" font-size="7.6" fill="#0c0c0c" stroke="#0c0c0c" stroke-width="0.3">6</text>
<text transform="translate(112.87,364.1) rotate(-90)" font-size="7.6" fill="#0c0c0c" stroke="#0c0c0c" stroke-width="0.3">4</text>
<text transform="translate(120.03,364.1) rotate(-90)" font-size="7.6" fill="#0c0c0c" stroke="#0c0c0c" stroke-width="0.3">5</text>
<text transform="translate(127.20,364.1) rotate(-90)" font-size="7.6" fill="#0c0c0c" stroke="#0c0c0c" stroke-width="0.3">3</text>
<text transform="translate(134.36,364.1) rotate(-90)" font-size="7.6" fill="#0c0c0c" stroke="#0c0c0c" stroke-width="0.3">19</text>
<text transform="translate(141.53,364.1) rotate(-90)" font-size="7.6" fill="#0c0c0c" stroke="#0c0c0c" stroke-width="0.3">20</text>
<text transform="translate(148.69,364.1) rotate(-90)" font-size="7.6" fill="#0c0c0c" stroke="#0c0c0c" stroke-width="0.3">22</text>
<text transform="translate(155.86,364.1) rotate(-90)" font-size="7.6" fill="#0c0c0c" stroke="#0c0c0c" stroke-width="0.3">13</text>
<text transform="translate(163.02,364.1) rotate(-90)" font-size="7.6" fill="#0c0c0c" stroke="#0c0c0c" stroke-width="0.3">15</text>
<text transform="translate(170.19,364.1) rotate(-90)" font-size="7.6" fill="#0c0c0c" stroke="#0c0c0c" stroke-width="0.3">23</text>
<text transform="translate(177.35,364.1) rotate(-90)" font-size="7.6" fill="#0c0c0c" stroke="#0c0c0c" stroke-width="0.3">21</text>
<text transform="translate(184.52,364.1) rotate(-90)" font-size="7.6" fill="#0c0c0c" stroke="#0c0c0c" stroke-width="0.3">16</text>
<text transform="translate(191.68,364.1) rotate(-90)" font-size="7.6" fill="#0c0c0c" stroke="#0c0c0c" stroke-width="0.3">18</text>
<text transform="translate(198.85,364.1) rotate(-90)" font-size="7.6" fill="#0c0c0c" stroke="#0c0c0c" stroke-width="0.3">14</text>
<text transform="translate(206.01,364.1) rotate(-90)" font-size="7.6" fill="#0c0c0c" stroke="#0c0c0c" stroke-width="0.3">24</text>
<text transform="translate(213.18,364.1) rotate(-90)" font-size="7.6" fill="#0c0c0c" stroke="#0c0c0c" stroke-width="0.3">17</text>
<text x="66.80" y="347.0" font-size="7.6" fill="#0c0c0c">ROR1<tspan dy="-3.0" font-size="5.8">Neg</tspan></text>
<text x="155.00" y="347.0" font-size="7.6" fill="#0c0c0c">ROR1<tspan dy="-3.0" font-size="5.8">Pos</tspan></text>
<g shape-rendering="crispEdges">
<rect x="42.10" y="367.00" width="171.96" height="195.82" fill="#e8161a"/>
<rect x="42.10" y="562.83" width="171.96" height="121.22" fill="#2047a6"/>
<rect x="63.59" y="367.00" width="7.17" height="9.32" fill="#f6a4a5"/>
<rect x="85.09" y="367.00" width="7.17" height="9.32" fill="#f6a4a5"/>
<rect x="99.42" y="367.00" width="7.17" height="9.32" fill="#ffffff"/>
<rect x="142.41" y="367.00" width="7.17" height="9.32" fill="#f6a4a5"/>
<rect x="156.74" y="367.00" width="14.33" height="9.32" fill="#ee585b"/>
<rect x="199.73" y="367.00" width="7.17" height="9.32" fill="#f6a4a5"/>
<rect x="63.59" y="376.32" width="7.17" height="9.32" fill="#d4d9f0"/>
<rect x="70.76" y="376.32" width="7.17" height="9.32" fill="#ee585b"/>
<rect x="99.42" y="376.32" width="7.17" height="9.32" fill="#ee585b"/>
<rect x="49.27" y="385.65" width="7.17" height="9.32" fill="#ee585b"/>
<rect x="63.59" y="385.65" width="7.17" height="9.32" fill="#ee585b"/>
<rect x="77.93" y="385.65" width="7.17" height="9.32" fill="#ee585b"/>
<rect x="85.09" y="385.65" width="7.17" height="9.32" fill="#f6a4a5"/>
<rect x="99.42" y="385.65" width="7.17" height="9.32" fill="#ee585b"/>
<rect x="106.59" y="385.65" width="7.17" height="9.32" fill="#fbd6d6"/>
<rect x="113.75" y="385.65" width="7.17" height="9.32" fill="#ee585b"/>
<rect x="135.25" y="385.65" width="7.17" height="9.32" fill="#ee585b"/>
<rect x="178.23" y="385.65" width="7.17" height="9.32" fill="#f6a4a5"/>
<rect x="192.56" y="385.65" width="7.17" height="9.32" fill="#f6a4a5"/>
<rect x="49.27" y="394.98" width="7.17" height="9.32" fill="#9ca4d7"/>
<rect x="63.59" y="394.98" width="7.17" height="9.32" fill="#f6a4a5"/>
<rect x="77.93" y="394.98" width="7.17" height="9.32" fill="#ee585b"/>
<rect x="85.09" y="394.98" width="7.17" height="9.32" fill="#f6a4a5"/>
<rect x="99.42" y="394.98" width="7.17" height="9.32" fill="#ee585b"/>
<rect x="113.75" y="394.98" width="7.17" height="9.32" fill="#d4d9f0"/>
<rect x="128.08" y="394.98" width="7.17" height="9.32" fill="#ee585b"/>
<rect x="142.41" y="394.98" width="7.17" height="9.32" fill="#f6a4a5"/>
<rect x="171.07" y="394.98" width="7.17" height="9.32" fill="#ee585b"/>
<rect x="178.23" y="394.98" width="7.17" height="9.32" fill="#fbd6d6"/>
<rect x="192.56" y="394.98" width="7.17" height="9.32" fill="#fbd6d6"/>
<rect x="199.73" y="394.98" width="7.17" height="9.32" fill="#ee585b"/>
<rect x="42.10" y="422.95" width="7.17" height="9.32" fill="#f6a4a5"/>
<rect x="49.27" y="422.95" width="14.33" height="9.32" fill="#ee585b"/>
<rect x="63.59" y="422.95" width="7.17" height="9.32" fill="#fbd6d6"/>
<rect x="70.76" y="422.95" width="7.17" height="9.32" fill="#ee585b"/>
<rect x="77.93" y="422.95" width="7.17" height="9.32" fill="#f6a4a5"/>
<rect x="85.09" y="422.95" width="7.17" height="9.32" fill="#9ca4d7"/>
<rect x="92.25" y="422.95" width="7.17" height="9.32" fill="#ee585b"/>
<rect x="99.42" y="422.95" width="14.33" height="9.32" fill="#fbd6d6"/>
<rect x="120.91" y="422.95" width="7.17" height="9.32" fill="#f6a4a5"/>
<rect x="128.08" y="422.95" width="7.17" height="9.32" fill="#ee585b"/>
<rect x="135.25" y="422.95" width="7.17" height="9.32" fill="#f6a4a5"/>
<rect x="142.41" y="422.95" width="35.83" height="9.32" fill="#ee585b"/>
<rect x="178.23" y="422.95" width="7.17" height="9.32" fill="#fbd6d6"/>
<rect x="185.40" y="422.95" width="7.17" height="9.32" fill="#ffffff"/>
<rect x="192.56" y="422.95" width="7.17" height="9.32" fill="#f6a4a5"/>
<rect x="199.73" y="422.95" width="7.17" height="9.32" fill="#ee585b"/>
<rect x="206.89" y="422.95" width="7.17" height="9.32" fill="#f6a4a5"/>
<rect x="85.09" y="432.27" width="7.17" height="9.32" fill="#ffffff"/>
<rect x="106.59" y="432.27" width="7.17" height="9.32" fill="#ee585b"/>
<rect x="113.75" y="432.27" width="7.17" height="9.32" fill="#f6a4a5"/>
<rect x="178.23" y="432.27" width="7.17" height="9.32" fill="#ee585b"/>
<rect x="63.59" y="441.60" width="7.17" height="9.32" fill="#ee585b"/>
<rect x="106.59" y="441.60" width="7.17" height="9.32" fill="#f6a4a5"/>
<rect x="199.73" y="441.60" width="7.17" height="9.32" fill="#ee585b"/>
<rect x="42.10" y="450.93" width="7.17" height="9.32" fill="#f6a4a5"/>
<rect x="49.27" y="450.93" width="7.17" height="9.32" fill="#ee585b"/>
<rect x="63.59" y="450.93" width="7.17" height="9.32" fill="#ee585b"/>
<rect x="70.76" y="450.93" width="7.17" height="9.32" fill="#fbd6d6"/>
<rect x="77.93" y="450.93" width="7.17" height="9.32" fill="#f6a4a5"/>
<rect x="92.25" y="450.93" width="7.17" height="9.32" fill="#f6a4a5"/>
<rect x="106.59" y="450.93" width="28.66" height="9.32" fill="#ee585b"/>
<rect x="156.74" y="450.93" width="7.17" height="9.32" fill="#ee585b"/>
<rect x="85.09" y="460.25" width="7.17" height="9.32" fill="#f6a4a5"/>
<rect x="99.42" y="460.25" width="7.17" height="9.32" fill="#ee585b"/>
<rect x="128.08" y="460.25" width="7.17" height="9.32" fill="#ee585b"/>
<rect x="142.41" y="460.25" width="7.17" height="9.32" fill="#f6a4a5"/>
<rect x="163.91" y="460.25" width="7.17" height="9.32" fill="#f6a4a5"/>
<rect x="178.23" y="460.25" width="7.17" height="9.32" fill="#f6a4a5"/>
<rect x="192.56" y="460.25" width="7.17" height="9.32" fill="#ee585b"/>
<rect x="92.25" y="469.57" width="14.33" height="9.32" fill="#ee585b"/>
<rect x="120.91" y="469.57" width="7.17" height="9.32" fill="#ee585b"/>
<rect x="185.40" y="469.57" width="7.17" height="9.32" fill="#ee585b"/>
<rect x="199.73" y="469.57" width="7.17" height="9.32" fill="#fbd6d6"/>
<rect x="42.10" y="478.90" width="7.17" height="9.32" fill="#f6a4a5"/>
<rect x="49.27" y="478.90" width="7.17" height="9.32" fill="#ffffff"/>
<rect x="56.43" y="478.90" width="7.17" height="9.32" fill="#9ca4d7"/>
<rect x="63.59" y="478.90" width="7.17" height="9.32" fill="#4c60b6"/>
<rect x="77.93" y="478.90" width="7.17" height="9.32" fill="#d4d9f0"/>
<rect x="85.09" y="478.90" width="7.17" height="9.32" fill="#f6a4a5"/>
<rect x="99.42" y="478.90" width="7.17" height="9.32" fill="#ffffff"/>
<rect x="106.59" y="478.90" width="14.33" height="9.32" fill="#fbd6d6"/>
<rect x="128.08" y="478.90" width="14.33" height="9.32" fill="#f6a4a5"/>
<rect x="149.57" y="478.90" width="7.17" height="9.32" fill="#ee585b"/>
<rect x="156.74" y="478.90" width="14.33" height="9.32" fill="#f6a4a5"/>
<rect x="171.07" y="478.90" width="7.17" height="9.32" fill="#fbd6d6"/>
<rect x="178.23" y="478.90" width="21.50" height="9.32" fill="#f6a4a5"/>
<rect x="199.73" y="478.90" width="7.17" height="9.32" fill="#fbd6d6"/>
<rect x="206.89" y="478.90" width="7.17" height="9.32" fill="#ee585b"/>
<rect x="42.10" y="488.23" width="7.17" height="9.32" fill="#ee585b"/>
<rect x="85.09" y="488.23" width="7.17" height="9.32" fill="#ee585b"/>
<rect x="106.59" y="488.23" width="7.17" height="9.32" fill="#ee585b"/>
<rect x="42.10" y="497.55" width="7.17" height="9.32" fill="#f6a4a5"/>
<rect x="49.27" y="497.55" width="14.33" height="9.32" fill="#fbd6d6"/>
<rect x="63.59" y="497.55" width="7.17" height="9.32" fill="#d4d9f0"/>
<rect x="70.76" y="497.55" width="7.17" height="9.32" fill="#ee585b"/>
<rect x="77.93" y="497.55" width="7.17" height="9.32" fill="#fbd6d6"/>
<rect x="85.09" y="497.55" width="7.17" height="9.32" fill="#9ca4d7"/>
<rect x="92.25" y="497.55" width="7.17" height="9.32" fill="#f6a4a5"/>
<rect x="99.42" y="497.55" width="7.17" height="9.32" fill="#d4d9f0"/>
<rect x="106.59" y="497.55" width="7.17" height="9.32" fill="#fbd6d6"/>
<rect x="113.75" y="497.55" width="14.33" height="9.32" fill="#f6a4a5"/>
<rect x="128.08" y="497.55" width="7.17" height="9.32" fill="#ee585b"/>
<rect x="135.25" y="497.55" width="7.17" height="9.32" fill="#fbd6d6"/>
<rect x="142.41" y="497.55" width="7.17" height="9.32" fill="#ee585b"/>
<rect x="149.57" y="497.55" width="7.17" height="9.32" fill="#fbd6d6"/>
<rect x="156.74" y="497.55" width="7.17" height="9.32" fill="#f6a4a5"/>
<rect x="163.91" y="497.55" width="14.33" height="9.32" fill="#ee585b"/>
<rect x="178.23" y="497.55" width="7.17" height="9.32" fill="#d4d9f0"/>
<rect x="185.40" y="497.55" width="7.17" height="9.32" fill="#ee585b"/>
<rect x="192.56" y="497.55" width="7.17" height="9.32" fill="#fbd6d6"/>
<rect x="199.73" y="497.55" width="7.17" height="9.32" fill="#ee585b"/>
<rect x="206.89" y="497.55" width="7.17" height="9.32" fill="#f6a4a5"/>
<rect x="63.59" y="506.88" width="7.17" height="9.32" fill="#ee585b"/>
<rect x="92.25" y="506.88" width="14.33" height="9.32" fill="#ee585b"/>
<rect x="199.73" y="506.88" width="7.17" height="9.32" fill="#ee585b"/>
<rect x="42.10" y="516.20" width="7.17" height="9.32" fill="#ee585b"/>
<rect x="56.43" y="516.20" width="7.17" height="9.32" fill="#ffffff"/>
<rect x="63.59" y="516.20" width="7.17" height="9.32" fill="#ee585b"/>
<rect x="70.76" y="516.20" width="7.17" height="9.32" fill="#fbd6d6"/>
<rect x="77.93" y="516.20" width="7.17" height="9.32" fill="#ee585b"/>
<rect x="85.09" y="516.20" width="14.33" height="9.32" fill="#f6a4a5"/>
<rect x="99.42" y="516.20" width="7.17" height="9.32" fill="#2047a6"/>
<rect x="106.59" y="516.20" width="7.17" height="9.32" fill="#ee585b"/>
<rect x="113.75" y="516.20" width="7.17" height="9.32" fill="#2047a6"/>
<rect x="128.08" y="516.20" width="7.17" height="9.32" fill="#fbd6d6"/>
<rect x="135.25" y="516.20" width="7.17" height="9.32" fill="#2047a6"/>
<rect x="149.57" y="516.20" width="14.33" height="9.32" fill="#f6a4a5"/>
<rect x="171.07" y="516.20" width="7.17" height="9.32" fill="#fbd6d6"/>
<rect x="178.23" y="516.20" width="14.33" height="9.32" fill="#f6a4a5"/>
<rect x="199.73" y="516.20" width="14.33" height="9.32" fill="#ffffff"/>
<rect x="49.27" y="525.52" width="7.17" height="9.32" fill="#fbd6d6"/>
<rect x="63.59" y="525.52" width="7.17" height="9.32" fill="#ffffff"/>
<rect x="70.76" y="525.52" width="7.17" height="9.32" fill="#2047a6"/>
<rect x="77.93" y="525.52" width="7.17" height="9.32" fill="#fbd6d6"/>
<rect x="85.09" y="525.52" width="7.17" height="9.32" fill="#f6a4a5"/>
<rect x="99.42" y="525.52" width="7.17" height="9.32" fill="#fbd6d6"/>
<rect x="106.59" y="525.52" width="7.17" height="9.32" fill="#ee585b"/>
<rect x="113.75" y="525.52" width="7.17" height="9.32" fill="#2047a6"/>
<rect x="120.91" y="525.52" width="7.17" height="9.32" fill="#f6a4a5"/>
<rect x="128.08" y="525.52" width="14.33" height="9.32" fill="#2047a6"/>
<rect x="142.41" y="525.52" width="7.17" height="9.32" fill="#fbd6d6"/>
<rect x="156.74" y="525.52" width="7.17" height="9.32" fill="#ee585b"/>
<rect x="163.91" y="525.52" width="7.17" height="9.32" fill="#f6a4a5"/>
<rect x="178.23" y="525.52" width="7.17" height="9.32" fill="#ffffff"/>
<rect x="192.56" y="525.52" width="7.17" height="9.32" fill="#ee585b"/>
<rect x="199.73" y="525.52" width="7.17" height="9.32" fill="#f6a4a5"/>
<rect x="85.09" y="534.85" width="7.17" height="9.32" fill="#ee585b"/>
<rect x="185.40" y="534.85" width="7.17" height="9.32" fill="#ee585b"/>
<rect x="49.27" y="544.17" width="14.33" height="9.32" fill="#ee585b"/>
<rect x="63.59" y="544.17" width="7.17" height="9.32" fill="#f6a4a5"/>
<rect x="85.09" y="544.17" width="7.17" height="9.32" fill="#f6a4a5"/>
<rect x="92.25" y="544.17" width="7.17" height="9.32" fill="#ee585b"/>
<rect x="99.42" y="544.17" width="7.17" height="9.32" fill="#ffffff"/>
<rect x="106.59" y="544.17" width="7.17" height="9.32" fill="#ee585b"/>
<rect x="120.91" y="544.17" width="7.17" height="9.32" fill="#ee585b"/>
<rect x="156.74" y="544.17" width="7.17" height="9.32" fill="#ee585b"/>
<rect x="49.27" y="553.50" width="7.17" height="9.32" fill="#fbd6d6"/>
<rect x="56.43" y="553.50" width="7.17" height="9.32" fill="#2047a6"/>
<rect x="63.59" y="553.50" width="7.17" height="9.32" fill="#ee585b"/>
<rect x="77.93" y="553.50" width="7.17" height="9.32" fill="#fbd6d6"/>
<rect x="92.25" y="553.50" width="7.17" height="9.32" fill="#ee585b"/>
<rect x="99.42" y="553.50" width="7.17" height="9.32" fill="#9ca4d7"/>
<rect x="128.08" y="553.50" width="14.33" height="9.32" fill="#ee585b"/>
<rect x="163.91" y="553.50" width="7.17" height="9.32" fill="#ee585b"/>
<rect x="206.89" y="553.50" width="7.17" height="9.32" fill="#f6a4a5"/>
<rect x="49.27" y="562.83" width="7.17" height="9.32" fill="#9ca4d7"/>
<rect x="56.43" y="562.83" width="7.17" height="9.32" fill="#fbd6d6"/>
<rect x="70.76" y="562.83" width="7.17" height="9.32" fill="#4c60b6"/>
<rect x="77.93" y="562.83" width="7.17" height="9.32" fill="#f6a4a5"/>
<rect x="85.09" y="562.83" width="14.33" height="9.32" fill="#d4d9f0"/>
<rect x="99.42" y="562.83" width="7.17" height="9.32" fill="#f6a4a5"/>
<rect x="113.75" y="562.83" width="7.17" height="9.32" fill="#ffffff"/>
<rect x="135.25" y="562.83" width="7.17" height="9.32" fill="#f6a4a5"/>
<rect x="156.74" y="562.83" width="7.17" height="9.32" fill="#ffffff"/>
<rect x="163.91" y="562.83" width="7.17" height="9.32" fill="#4c60b6"/>
<rect x="171.07" y="562.83" width="14.33" height="9.32" fill="#9ca4d7"/>
<rect x="192.56" y="562.83" width="14.33" height="9.32" fill="#4c60b6"/>
<rect x="206.89" y="562.83" width="7.17" height="9.32" fill="#ffffff"/>
<rect x="42.10" y="572.15" width="7.17" height="9.32" fill="#9ca4d7"/>
<rect x="49.27" y="572.15" width="7.17" height="9.32" fill="#d4d9f0"/>
<rect x="56.43" y="572.15" width="7.17" height="9.32" fill="#ffffff"/>
<rect x="77.93" y="572.15" width="7.17" height="9.32" fill="#4c60b6"/>
<rect x="106.59" y="572.15" width="7.17" height="9.32" fill="#4c60b6"/>
<rect x="120.91" y="572.15" width="7.17" height="9.32" fill="#ffffff"/>
<rect x="163.91" y="572.15" width="7.17" height="9.32" fill="#4c60b6"/>
<rect x="185.40" y="572.15" width="7.17" height="9.32" fill="#ffffff"/>
<rect x="206.89" y="572.15" width="7.17" height="9.32" fill="#9ca4d7"/>
<rect x="49.27" y="581.48" width="7.17" height="9.32" fill="#9ca4d7"/>
<rect x="63.59" y="581.48" width="7.17" height="9.32" fill="#f6a4a5"/>
<rect x="70.76" y="581.48" width="7.17" height="9.32" fill="#ffffff"/>
<rect x="77.93" y="581.48" width="7.17" height="9.32" fill="#4c60b6"/>
<rect x="85.09" y="581.48" width="7.17" height="9.32" fill="#e8161a"/>
<rect x="92.25" y="581.48" width="7.17" height="9.32" fill="#d4d9f0"/>
<rect x="106.59" y="581.48" width="7.17" height="9.32" fill="#e8161a"/>
<rect x="113.75" y="581.48" width="7.17" height="9.32" fill="#f6a4a5"/>
<rect x="120.91" y="581.48" width="7.17" height="9.32" fill="#9ca4d7"/>
<rect x="135.25" y="581.48" width="7.17" height="9.32" fill="#9ca4d7"/>
<rect x="142.41" y="581.48" width="7.17" height="9.32" fill="#d4d9f0"/>
<rect x="171.07" y="581.48" width="7.17" height="9.32" fill="#9ca4d7"/>
<rect x="178.23" y="581.48" width="7.17" height="9.32" fill="#ee585b"/>
<rect x="185.40" y="581.48" width="7.17" height="9.32" fill="#9ca4d7"/>
<rect x="192.56" y="581.48" width="7.17" height="9.32" fill="#fbd6d6"/>
<rect x="199.73" y="581.48" width="7.17" height="9.32" fill="#f6a4a5"/>
<rect x="206.89" y="581.48" width="7.17" height="9.32" fill="#4c60b6"/>
<rect x="42.10" y="590.80" width="7.17" height="9.32" fill="#9ca4d7"/>
<rect x="49.27" y="590.80" width="21.50" height="9.32" fill="#fbd6d6"/>
<rect x="70.76" y="590.80" width="7.17" height="9.32" fill="#9ca4d7"/>
<rect x="77.93" y="590.80" width="7.17" height="9.32" fill="#ffffff"/>
<rect x="85.09" y="590.80" width="7.17" height="9.32" fill="#d4d9f0"/>
<rect x="99.42" y="590.80" width="21.50" height="9.32" fill="#ee585b"/>
<rect x="120.91" y="590.80" width="7.17" height="9.32" fill="#4c60b6"/>
<rect x="128.08" y="590.80" width="7.17" height="9.32" fill="#9ca4d7"/>
<rect x="135.25" y="590.80" width="7.17" height="9.32" fill="#fbd6d6"/>
<rect x="142.41" y="590.80" width="7.17" height="9.32" fill="#f6a4a5"/>
<rect x="149.57" y="590.80" width="14.33" height="9.32" fill="#9ca4d7"/>
<rect x="163.91" y="590.80" width="7.17" height="9.32" fill="#4c60b6"/>
<rect x="171.07" y="590.80" width="7.17" height="9.32" fill="#ffffff"/>
<rect x="185.40" y="590.80" width="7.17" height="9.32" fill="#4c60b6"/>
<rect x="192.56" y="590.80" width="7.17" height="9.32" fill="#9ca4d7"/>
<rect x="199.73" y="590.80" width="7.17" height="9.32" fill="#f6a4a5"/>
<rect x="206.89" y="590.80" width="7.17" height="9.32" fill="#9ca4d7"/>
<rect x="99.42" y="600.12" width="7.17" height="9.32" fill="#f6a4a5"/>
<rect x="63.59" y="609.45" width="7.17" height="9.32" fill="#f6a4a5"/>
<rect x="85.09" y="609.45" width="7.17" height="9.32" fill="#4c60b6"/>
<rect x="42.10" y="618.77" width="7.17" height="9.32" fill="#4c60b6"/>
<rect x="56.43" y="618.77" width="7.17" height="9.32" fill="#9ca4d7"/>
<rect x="63.59" y="618.77" width="7.17" height="9.32" fill="#ffffff"/>
<rect x="77.93" y="618.77" width="7.17" height="9.32" fill="#ffffff"/>
<rect x="92.25" y="618.77" width="7.17" height="9.32" fill="#d4d9f0"/>
<rect x="99.42" y="618.77" width="14.33" height="9.32" fill="#ffffff"/>
<rect x="156.74" y="618.77" width="7.17" height="9.32" fill="#d4d9f0"/>
<rect x="163.91" y="618.77" width="7.17" height="9.32" fill="#4c60b6"/>
<rect x="178.23" y="618.77" width="7.17" height="9.32" fill="#d4d9f0"/>
<rect x="99.42" y="628.10" width="7.17" height="9.32" fill="#f6a4a5"/>
<rect x="49.27" y="637.42" width="7.17" height="9.32" fill="#ffffff"/>
<rect x="99.42" y="637.42" width="7.17" height="9.32" fill="#9ca4d7"/>
<rect x="106.59" y="637.42" width="7.17" height="9.32" fill="#ee585b"/>
<rect x="113.75" y="637.42" width="7.17" height="9.32" fill="#4c60b6"/>
<rect x="128.08" y="637.42" width="7.17" height="9.32" fill="#4c60b6"/>
<rect x="178.23" y="637.42" width="7.17" height="9.32" fill="#4c60b6"/>
<rect x="42.10" y="646.75" width="7.17" height="9.32" fill="#9ca4d7"/>
<rect x="56.43" y="646.75" width="7.17" height="9.32" fill="#9ca4d7"/>
<rect x="63.59" y="646.75" width="7.17" height="9.32" fill="#ffffff"/>
<rect x="77.93" y="646.75" width="7.17" height="9.32" fill="#4c60b6"/>
<rect x="85.09" y="646.75" width="7.17" height="9.32" fill="#9ca4d7"/>
<rect x="99.42" y="646.75" width="7.17" height="9.32" fill="#fbd6d6"/>
<rect x="106.59" y="646.75" width="7.17" height="9.32" fill="#4c60b6"/>
<rect x="120.91" y="646.75" width="7.17" height="9.32" fill="#9ca4d7"/>
<rect x="128.08" y="646.75" width="7.17" height="9.32" fill="#d4d9f0"/>
<rect x="142.41" y="646.75" width="7.17" height="9.32" fill="#fbd6d6"/>
<rect x="149.57" y="646.75" width="7.17" height="9.32" fill="#9ca4d7"/>
<rect x="171.07" y="646.75" width="7.17" height="9.32" fill="#9ca4d7"/>
<rect x="185.40" y="646.75" width="7.17" height="9.32" fill="#4c60b6"/>
<rect x="199.73" y="646.75" width="7.17" height="9.32" fill="#d4d9f0"/>
<rect x="99.42" y="656.08" width="7.17" height="9.32" fill="#fbd6d6"/>
<rect x="178.23" y="656.08" width="7.17" height="9.32" fill="#4c60b6"/>
<rect x="156.74" y="665.40" width="7.17" height="9.32" fill="#9ca4d7"/>
<rect x="99.42" y="674.72" width="7.17" height="9.32" fill="#e8161a"/>
</g>
<text x="217.60" y="373.86" font-size="7.7" fill="#0c0c0c">DNMBP</text>
<text x="217.60" y="383.19" font-size="7.7" fill="#0c0c0c">SPOCK2</text>
<text x="217.60" y="392.51" font-size="7.7" fill="#0c0c0c">ESYT1</text>
<text x="217.60" y="401.84" font-size="7.7" fill="#0c0c0c">ABCA6</text>
<text x="217.60" y="411.16" font-size="7.7" fill="#0c0c0c">PEBP1</text>
<text x="217.60" y="420.49" font-size="7.7" fill="#0c0c0c">STARD7</text>
<text x="217.60" y="429.81" font-size="7.7" fill="#0c0c0c">CELSR1</text>
<text x="217.60" y="439.14" font-size="7.7" fill="#0c0c0c">CD27</text>
<text x="217.60" y="448.46" font-size="7.7" fill="#0c0c0c">RHOC</text>
<text x="217.60" y="457.79" font-size="7.7" fill="#0c0c0c">CSNK1E</text>
<text x="217.60" y="467.11" font-size="7.7" fill="#0c0c0c">OGT</text>
<text x="217.60" y="476.44" font-size="7.7" fill="#0c0c0c">PTPN7</text>
<text x="217.60" y="485.76" font-size="7.7" fill="#0c0c0c">RASGRF1</text>
<text x="217.60" y="495.09" font-size="7.7" fill="#0c0c0c">NUMA1</text>
<text x="217.60" y="504.41" font-size="7.7" fill="#0c0c0c">HIVEP2</text>
<text x="217.60" y="513.74" font-size="7.7" fill="#0c0c0c">ID3</text>
<text x="217.60" y="523.06" font-size="7.7" fill="#0c0c0c">CXCR3</text>
<text x="217.60" y="532.39" font-size="7.7" fill="#0c0c0c">DMD</text>
<text x="217.60" y="541.71" font-size="7.7" fill="#0c0c0c">FAIM3</text>
<text x="217.60" y="551.04" font-size="7.7" fill="#0c0c0c">SFMBT1</text>
<text x="217.60" y="560.36" font-size="7.7" fill="#0c0c0c">BIGH3</text>
<text x="217.60" y="569.69" font-size="7.7" fill="#0c0c0c">TRIB2</text>
<text x="217.60" y="579.01" font-size="7.7" fill="#0c0c0c">IL15</text>
<text x="217.60" y="588.34" font-size="7.7" fill="#0c0c0c">NRIP1</text>
<text x="217.60" y="597.66" font-size="7.7" fill="#0c0c0c">CD268</text>
<text x="217.60" y="606.99" font-size="7.7" fill="#0c0c0c">CHL1</text>
<text x="217.60" y="616.31" font-size="7.7" fill="#0c0c0c">EBI3</text>
<text x="217.60" y="625.64" font-size="7.7" fill="#0c0c0c">EPB41L2</text>
<text x="217.60" y="634.96" font-size="7.7" fill="#0c0c0c">IL6</text>
<text x="217.60" y="644.29" font-size="7.7" fill="#0c0c0c">JAM3</text>
<text x="217.60" y="653.61" font-size="7.7" fill="#0c0c0c">LGMN</text>
<text x="217.60" y="662.94" font-size="7.7" fill="#0c0c0c">NREP</text>
<text x="217.60" y="672.26" font-size="7.7" fill="#0c0c0c">RAGE</text>
<text x="217.60" y="681.59" font-size="7.7" fill="#0c0c0c">SOX11</text>
<path d="M296.6,32.8H382.2M387.3,32.8H470.0" stroke="#1a1a1a" stroke-width="1.35" fill="none"/>
<text transform="translate(301.62,44.8) rotate(-90)" font-size="7.6" fill="#0c0c0c" stroke="#0c0c0c" stroke-width="0.3">9</text>
<text transform="translate(309.05,44.8) rotate(-90)" font-size="7.6" fill="#0c0c0c" stroke="#0c0c0c" stroke-width="0.3">7</text>
<text transform="translate(316.48,44.8) rotate(-90)" font-size="7.6" fill="#0c0c0c" stroke="#0c0c0c" stroke-width="0.3">1</text>
<text transform="translate(323.92,44.8) rotate(-90)" font-size="7.6" fill="#0c0c0c" stroke="#0c0c0c" stroke-width="0.3">2</text>
<text transform="translate(331.35,44.8) rotate(-90)" font-size="7.6" fill="#0c0c0c" stroke="#0c0c0c" stroke-width="0.3">10</text>
<text transform="translate(338.78,44.8) rotate(-90)" font-size="7.6" fill="#0c0c0c" stroke="#0c0c0c" stroke-width="0.3">11</text>
<text transform="translate(346.21,44.8) rotate(-90)" font-size="7.6" fill="#0c0c0c" stroke="#0c0c0c" stroke-width="0.3">12</text>
<text transform="translate(353.65,44.8) rotate(-90)" font-size="7.6" fill="#0c0c0c" stroke="#0c0c0c" stroke-width="0.3">8</text>
<text transform="translate(361.08,44.8) rotate(-90)" font-size="7.6" fill="#0c0c0c" stroke="#0c0c0c" stroke-width="0.3">6</text>
<text transform="translate(368.51,44.8) rotate(-90)" font-size="7.6" fill="#0c0c0c" stroke="#0c0c0c" stroke-width="0.3">4</text>
<text transform="translate(375.95,44.8) rotate(-90)" font-size="7.6" fill="#0c0c0c" stroke="#0c0c0c" stroke-width="0.3">5</text>
<text transform="translate(383.38,44.8) rotate(-90)" font-size="7.6" fill="#0c0c0c" stroke="#0c0c0c" stroke-width="0.3">3</text>
<text transform="translate(390.81,44.8) rotate(-90)" font-size="7.6" fill="#0c0c0c" stroke="#0c0c0c" stroke-width="0.3">19</text>
<text transform="translate(398.25,44.8) rotate(-90)" font-size="7.6" fill="#0c0c0c" stroke="#0c0c0c" stroke-width="0.3">20</text>
<text transform="translate(405.68,44.8) rotate(-90)" font-size="7.6" fill="#0c0c0c" stroke="#0c0c0c" stroke-width="0.3">22</text>
<text transform="translate(413.11,44.8) rotate(-90)" font-size="7.6" fill="#0c0c0c" stroke="#0c0c0c" stroke-width="0.3">13</text>
<text transform="translate(420.54,44.8) rotate(-90)" font-size="7.6" fill="#0c0c0c" stroke="#0c0c0c" stroke-width="0.3">15</text>
<text transform="translate(427.98,44.8) rotate(-90)" font-size="7.6" fill="#0c0c0c" stroke="#0c0c0c" stroke-width="0.3">23</text>
<text transform="translate(435.41,44.8) rotate(-90)" font-size="7.6" fill="#0c0c0c" stroke="#0c0c0c" stroke-width="0.3">21</text>
<text transform="translate(442.84,44.8) rotate(-90)" font-size="7.6" fill="#0c0c0c" stroke="#0c0c0c" stroke-width="0.3">16</text>
<text transform="translate(450.28,44.8) rotate(-90)" font-size="7.6" fill="#0c0c0c" stroke="#0c0c0c" stroke-width="0.3">18</text>
<text transform="translate(457.71,44.8) rotate(-90)" font-size="7.6" fill="#0c0c0c" stroke="#0c0c0c" stroke-width="0.3">14</text>
<text transform="translate(465.14,44.8) rotate(-90)" font-size="7.6" fill="#0c0c0c" stroke="#0c0c0c" stroke-width="0.3">24</text>
<text transform="translate(472.58,44.8) rotate(-90)" font-size="7.6" fill="#0c0c0c" stroke="#0c0c0c" stroke-width="0.3">17</text>
<text x="323.30" y="28.0" font-size="7.6" fill="#0c0c0c">ROR1<tspan dy="-3.0" font-size="5.8">Neg</tspan></text>
<text x="413.00" y="28.0" font-size="7.6" fill="#0c0c0c">ROR1<tspan dy="-3.0" font-size="5.8">Pos</tspan></text>
<g shape-rendering="crispEdges">
<rect x="295.20" y="48.40" width="178.39" height="233.89" fill="#e8161a"/>
<rect x="295.20" y="282.29" width="178.39" height="248.51" fill="#2047a6"/>
<rect x="295.20" y="48.40" width="7.43" height="7.31" fill="#4c60b6"/>
<rect x="302.63" y="48.40" width="22.30" height="7.31" fill="#2047a6"/>
<rect x="324.93" y="48.40" width="7.43" height="7.31" fill="#9ca4d7"/>
<rect x="332.37" y="48.40" width="7.43" height="7.31" fill="#2047a6"/>
<rect x="339.80" y="48.40" width="7.43" height="7.31" fill="#4c60b6"/>
<rect x="347.23" y="48.40" width="7.43" height="7.31" fill="#d4d9f0"/>
<rect x="354.66" y="48.40" width="7.43" height="7.31" fill="#9ca4d7"/>
<rect x="362.10" y="48.40" width="7.43" height="7.31" fill="#2047a6"/>
<rect x="369.53" y="48.40" width="7.43" height="7.31" fill="#fbd6d6"/>
<rect x="376.96" y="48.40" width="7.43" height="7.31" fill="#ffffff"/>
<rect x="384.40" y="48.40" width="29.73" height="7.31" fill="#fbd6d6"/>
<rect x="414.13" y="48.40" width="14.87" height="7.31" fill="#f6a4a5"/>
<rect x="428.99" y="48.40" width="14.87" height="7.31" fill="#fbd6d6"/>
<rect x="443.86" y="48.40" width="22.30" height="7.31" fill="#ee585b"/>
<rect x="466.16" y="48.40" width="7.43" height="7.31" fill="#fbd6d6"/>
<rect x="295.20" y="55.71" width="7.43" height="7.31" fill="#f6a4a5"/>
<rect x="302.63" y="55.71" width="14.87" height="7.31" fill="#ee585b"/>
<rect x="317.50" y="55.71" width="7.43" height="7.31" fill="#2047a6"/>
<rect x="339.80" y="55.71" width="7.43" height="7.31" fill="#2047a6"/>
<rect x="347.23" y="55.71" width="7.43" height="7.31" fill="#f6a4a5"/>
<rect x="354.66" y="55.71" width="14.87" height="7.31" fill="#2047a6"/>
<rect x="376.96" y="55.71" width="7.43" height="7.31" fill="#ffffff"/>
<rect x="391.83" y="55.71" width="7.43" height="7.31" fill="#fbd6d6"/>
<rect x="399.26" y="55.71" width="7.43" height="7.31" fill="#2047a6"/>
<rect x="406.69" y="55.71" width="7.43" height="7.31" fill="#f6a4a5"/>
<rect x="414.13" y="55.71" width="7.43" height="7.31" fill="#4c60b6"/>
<rect x="428.99" y="55.71" width="7.43" height="7.31" fill="#ee585b"/>
<rect x="436.43" y="55.71" width="14.87" height="7.31" fill="#2047a6"/>
<rect x="451.29" y="55.71" width="14.87" height="7.31" fill="#ffffff"/>
<rect x="466.16" y="55.71" width="7.43" height="7.31" fill="#f6a4a5"/>
<rect x="354.66" y="63.02" width="7.43" height="7.31" fill="#d4d9f0"/>
<rect x="302.63" y="70.33" width="7.43" height="7.31" fill="#4c60b6"/>
<rect x="310.07" y="70.33" width="7.43" height="7.31" fill="#ee585b"/>
<rect x="317.50" y="70.33" width="7.43" height="7.31" fill="#f6a4a5"/>
<rect x="332.37" y="70.33" width="7.43" height="7.31" fill="#f6a4a5"/>
<rect x="339.80" y="70.33" width="7.43" height="7.31" fill="#ee585b"/>
<rect x="347.23" y="70.33" width="7.43" height="7.31" fill="#fbd6d6"/>
<rect x="354.66" y="70.33" width="7.43" height="7.31" fill="#ee585b"/>
<rect x="362.10" y="70.33" width="7.43" height="7.31" fill="#fbd6d6"/>
<rect x="369.53" y="70.33" width="7.43" height="7.31" fill="#f6a4a5"/>
<rect x="391.83" y="70.33" width="14.87" height="7.31" fill="#ee585b"/>
<rect x="414.13" y="70.33" width="7.43" height="7.31" fill="#ee585b"/>
<rect x="421.56" y="70.33" width="7.43" height="7.31" fill="#2047a6"/>
<rect x="428.99" y="70.33" width="7.43" height="7.31" fill="#ee585b"/>
<rect x="436.43" y="70.33" width="7.43" height="7.31" fill="#f6a4a5"/>
<rect x="443.86" y="70.33" width="7.43" height="7.31" fill="#ee585b"/>
<rect x="451.29" y="70.33" width="14.87" height="7.31" fill="#f6a4a5"/>
<rect x="302.63" y="77.64" width="22.30" height="7.31" fill="#ee585b"/>
<rect x="332.37" y="77.64" width="14.87" height="7.31" fill="#f6a4a5"/>
<rect x="347.23" y="77.64" width="7.43" height="7.31" fill="#ee585b"/>
<rect x="354.66" y="77.64" width="7.43" height="7.31" fill="#d4d9f0"/>
<rect x="362.10" y="77.64" width="7.43" height="7.31" fill="#ee585b"/>
<rect x="369.53" y="77.64" width="7.43" height="7.31" fill="#f6a4a5"/>
<rect x="391.83" y="77.64" width="7.43" height="7.31" fill="#ee585b"/>
<rect x="399.26" y="77.64" width="14.87" height="7.31" fill="#fbd6d6"/>
<rect x="414.13" y="77.64" width="37.16" height="7.31" fill="#ee585b"/>
<rect x="451.29" y="77.64" width="7.43" height="7.31" fill="#f6a4a5"/>
<rect x="302.63" y="84.94" width="7.43" height="7.31" fill="#ffffff"/>
<rect x="317.50" y="84.94" width="7.43" height="7.31" fill="#f6a4a5"/>
<rect x="339.80" y="84.94" width="7.43" height="7.31" fill="#d4d9f0"/>
<rect x="347.23" y="84.94" width="7.43" height="7.31" fill="#fbd6d6"/>
<rect x="354.66" y="84.94" width="7.43" height="7.31" fill="#2047a6"/>
<rect x="362.10" y="84.94" width="7.43" height="7.31" fill="#9ca4d7"/>
<rect x="391.83" y="84.94" width="14.87" height="7.31" fill="#ee585b"/>
<rect x="414.13" y="84.94" width="7.43" height="7.31" fill="#f6a4a5"/>
<rect x="421.56" y="84.94" width="7.43" height="7.31" fill="#ee585b"/>
<rect x="436.43" y="84.94" width="7.43" height="7.31" fill="#ee585b"/>
<rect x="451.29" y="84.94" width="14.87" height="7.31" fill="#ee585b"/>
<rect x="295.20" y="92.25" width="22.30" height="7.31" fill="#ee585b"/>
<rect x="317.50" y="92.25" width="7.43" height="7.31" fill="#f6a4a5"/>
<rect x="339.80" y="92.25" width="22.30" height="7.31" fill="#f6a4a5"/>
<rect x="376.96" y="92.25" width="7.43" height="7.31" fill="#ee585b"/>
<rect x="421.56" y="92.25" width="7.43" height="7.31" fill="#fbd6d6"/>
<rect x="443.86" y="92.25" width="22.30" height="7.31" fill="#ee585b"/>
<rect x="317.50" y="106.87" width="7.43" height="7.31" fill="#4c60b6"/>
<rect x="354.66" y="106.87" width="14.87" height="7.31" fill="#ee585b"/>
<rect x="317.50" y="114.18" width="7.43" height="7.31" fill="#f6a4a5"/>
<rect x="339.80" y="114.18" width="7.43" height="7.31" fill="#ee585b"/>
<rect x="354.66" y="114.18" width="7.43" height="7.31" fill="#ffffff"/>
<rect x="362.10" y="114.18" width="7.43" height="7.31" fill="#f6a4a5"/>
<rect x="414.13" y="114.18" width="7.43" height="7.31" fill="#ee585b"/>
<rect x="339.80" y="121.49" width="7.43" height="7.31" fill="#ee585b"/>
<rect x="362.10" y="121.49" width="7.43" height="7.31" fill="#f6a4a5"/>
<rect x="391.83" y="121.49" width="7.43" height="7.31" fill="#ee585b"/>
<rect x="428.99" y="121.49" width="7.43" height="7.31" fill="#ee585b"/>
<rect x="451.29" y="121.49" width="7.43" height="7.31" fill="#f6a4a5"/>
<rect x="466.16" y="121.49" width="7.43" height="7.31" fill="#f6a4a5"/>
<rect x="354.66" y="128.80" width="14.87" height="7.31" fill="#ee585b"/>
<rect x="391.83" y="128.80" width="7.43" height="7.31" fill="#ee585b"/>
<rect x="443.86" y="128.80" width="7.43" height="7.31" fill="#ee585b"/>
<rect x="339.80" y="136.11" width="7.43" height="7.31" fill="#f6a4a5"/>
<rect x="354.66" y="136.11" width="7.43" height="7.31" fill="#fbd6d6"/>
<rect x="421.56" y="136.11" width="7.43" height="7.31" fill="#f6a4a5"/>
<rect x="451.29" y="136.11" width="7.43" height="7.31" fill="#ee585b"/>
<rect x="317.50" y="143.42" width="7.43" height="7.31" fill="#fbd6d6"/>
<rect x="302.63" y="150.73" width="14.87" height="7.31" fill="#ee585b"/>
<rect x="332.37" y="150.73" width="7.43" height="7.31" fill="#ffffff"/>
<rect x="339.80" y="150.73" width="7.43" height="7.31" fill="#9ca4d7"/>
<rect x="354.66" y="150.73" width="7.43" height="7.31" fill="#f6a4a5"/>
<rect x="362.10" y="150.73" width="7.43" height="7.31" fill="#fbd6d6"/>
<rect x="369.53" y="150.73" width="7.43" height="7.31" fill="#f6a4a5"/>
<rect x="391.83" y="150.73" width="7.43" height="7.31" fill="#f6a4a5"/>
<rect x="414.13" y="150.73" width="7.43" height="7.31" fill="#ee585b"/>
<rect x="428.99" y="150.73" width="7.43" height="7.31" fill="#ee585b"/>
<rect x="436.43" y="150.73" width="7.43" height="7.31" fill="#fbd6d6"/>
<rect x="443.86" y="150.73" width="7.43" height="7.31" fill="#ee585b"/>
<rect x="451.29" y="150.73" width="7.43" height="7.31" fill="#ffffff"/>
<rect x="466.16" y="150.73" width="7.43" height="7.31" fill="#f6a4a5"/>
<rect x="295.20" y="158.03" width="7.43" height="7.31" fill="#f6a4a5"/>
<rect x="302.63" y="158.03" width="7.43" height="7.31" fill="#ee585b"/>
<rect x="317.50" y="158.03" width="7.43" height="7.31" fill="#f6a4a5"/>
<rect x="332.37" y="158.03" width="7.43" height="7.31" fill="#ee585b"/>
<rect x="339.80" y="158.03" width="7.43" height="7.31" fill="#f6a4a5"/>
<rect x="362.10" y="158.03" width="7.43" height="7.31" fill="#f6a4a5"/>
<rect x="369.53" y="158.03" width="7.43" height="7.31" fill="#ee585b"/>
<rect x="451.29" y="158.03" width="7.43" height="7.31" fill="#ee585b"/>
<rect x="354.66" y="187.27" width="7.43" height="7.31" fill="#ee585b"/>
<rect x="302.63" y="194.58" width="7.43" height="7.31" fill="#f6a4a5"/>
<rect x="310.07" y="194.58" width="7.43" height="7.31" fill="#ee585b"/>
<rect x="317.50" y="194.58" width="7.43" height="7.31" fill="#f6a4a5"/>
<rect x="324.93" y="194.58" width="7.43" height="7.31" fill="#ee585b"/>
<rect x="339.80" y="194.58" width="7.43" height="7.31" fill="#9ca4d7"/>
<rect x="347.23" y="194.58" width="7.43" height="7.31" fill="#ee585b"/>
<rect x="354.66" y="194.58" width="7.43" height="7.31" fill="#f6a4a5"/>
<rect x="362.10" y="194.58" width="7.43" height="7.31" fill="#fbd6d6"/>
<rect x="369.53" y="194.58" width="7.43" height="7.31" fill="#ee585b"/>
<rect x="376.96" y="194.58" width="7.43" height="7.31" fill="#f6a4a5"/>
<rect x="421.56" y="194.58" width="7.43" height="7.31" fill="#f6a4a5"/>
<rect x="436.43" y="194.58" width="7.43" height="7.31" fill="#ee585b"/>
<rect x="451.29" y="194.58" width="7.43" height="7.31" fill="#ee585b"/>
<rect x="302.63" y="209.20" width="7.43" height="7.31" fill="#ee585b"/>
<rect x="324.93" y="209.20" width="7.43" height="7.31" fill="#f6a4a5"/>
<rect x="332.37" y="209.20" width="7.43" height="7.31" fill="#ee585b"/>
<rect x="339.80" y="209.20" width="7.43" height="7.31" fill="#f6a4a5"/>
<rect x="362.10" y="209.20" width="14.87" height="7.31" fill="#d4d9f0"/>
<rect x="391.83" y="209.20" width="7.43" height="7.31" fill="#f6a4a5"/>
<rect x="399.26" y="209.20" width="7.43" height="7.31" fill="#ee585b"/>
<rect x="428.99" y="209.20" width="14.87" height="7.31" fill="#f6a4a5"/>
<rect x="451.29" y="209.20" width="7.43" height="7.31" fill="#ee585b"/>
<rect x="295.20" y="216.51" width="7.43" height="7.31" fill="#f6a4a5"/>
<rect x="302.63" y="216.51" width="7.43" height="7.31" fill="#ee585b"/>
<rect x="310.07" y="216.51" width="7.43" height="7.31" fill="#f6a4a5"/>
<rect x="317.50" y="216.51" width="22.30" height="7.31" fill="#ee585b"/>
<rect x="339.80" y="216.51" width="14.87" height="7.31" fill="#f6a4a5"/>
<rect x="354.66" y="216.51" width="7.43" height="7.31" fill="#4c60b6"/>
<rect x="362.10" y="216.51" width="7.43" height="7.31" fill="#ee585b"/>
<rect x="369.53" y="216.51" width="7.43" height="7.31" fill="#f6a4a5"/>
<rect x="376.96" y="216.51" width="7.43" height="7.31" fill="#ee585b"/>
<rect x="384.40" y="216.51" width="7.43" height="7.31" fill="#ffffff"/>
<rect x="391.83" y="216.51" width="7.43" height="7.31" fill="#2047a6"/>
<rect x="399.26" y="216.51" width="29.73" height="7.31" fill="#ee585b"/>
<rect x="436.43" y="216.51" width="14.87" height="7.31" fill="#ee585b"/>
<rect x="451.29" y="216.51" width="7.43" height="7.31" fill="#f6a4a5"/>
<rect x="458.73" y="216.51" width="14.87" height="7.31" fill="#ee585b"/>
<rect x="295.20" y="223.82" width="7.43" height="7.31" fill="#d4d9f0"/>
<rect x="302.63" y="223.82" width="14.87" height="7.31" fill="#fbd6d6"/>
<rect x="324.93" y="223.82" width="7.43" height="7.31" fill="#ee585b"/>
<rect x="332.37" y="223.82" width="7.43" height="7.31" fill="#f6a4a5"/>
<rect x="347.23" y="223.82" width="7.43" height="7.31" fill="#ee585b"/>
<rect x="354.66" y="223.82" width="7.43" height="7.31" fill="#f6a4a5"/>
<rect x="362.10" y="223.82" width="7.43" height="7.31" fill="#ee585b"/>
<rect x="376.96" y="223.82" width="7.43" height="7.31" fill="#f6a4a5"/>
<rect x="436.43" y="223.82" width="7.43" height="7.31" fill="#ee585b"/>
<rect x="451.29" y="223.82" width="7.43" height="7.31" fill="#ee585b"/>
<rect x="302.63" y="231.12" width="7.43" height="7.31" fill="#ee585b"/>
<rect x="317.50" y="231.12" width="7.43" height="7.31" fill="#ee585b"/>
<rect x="339.80" y="231.12" width="7.43" height="7.31" fill="#ffffff"/>
<rect x="354.66" y="231.12" width="7.43" height="7.31" fill="#fbd6d6"/>
<rect x="362.10" y="231.12" width="7.43" height="7.31" fill="#ee585b"/>
<rect x="369.53" y="231.12" width="7.43" height="7.31" fill="#f6a4a5"/>
<rect x="384.40" y="231.12" width="7.43" height="7.31" fill="#ee585b"/>
<rect x="391.83" y="231.12" width="14.87" height="7.31" fill="#f6a4a5"/>
<rect x="414.13" y="231.12" width="14.87" height="7.31" fill="#ee585b"/>
<rect x="428.99" y="231.12" width="7.43" height="7.31" fill="#f6a4a5"/>
<rect x="436.43" y="231.12" width="7.43" height="7.31" fill="#fbd6d6"/>
<rect x="451.29" y="231.12" width="7.43" height="7.31" fill="#f6a4a5"/>
<rect x="458.73" y="231.12" width="7.43" height="7.31" fill="#ee585b"/>
<rect x="339.80" y="245.74" width="7.43" height="7.31" fill="#ee585b"/>
<rect x="295.20" y="253.05" width="7.43" height="7.31" fill="#f6a4a5"/>
<rect x="302.63" y="253.05" width="7.43" height="7.31" fill="#ee585b"/>
<rect x="317.50" y="253.05" width="14.87" height="7.31" fill="#f6a4a5"/>
<rect x="332.37" y="253.05" width="14.87" height="7.31" fill="#ee585b"/>
<rect x="347.23" y="253.05" width="7.43" height="7.31" fill="#fbd6d6"/>
<rect x="354.66" y="253.05" width="14.87" height="7.31" fill="#f6a4a5"/>
<rect x="369.53" y="253.05" width="7.43" height="7.31" fill="#ee585b"/>
<rect x="376.96" y="253.05" width="14.87" height="7.31" fill="#f6a4a5"/>
<rect x="399.26" y="253.05" width="14.87" height="7.31" fill="#ee585b"/>
<rect x="421.56" y="253.05" width="7.43" height="7.31" fill="#ffffff"/>
<rect x="436.43" y="253.05" width="7.43" height="7.31" fill="#ee585b"/>
<rect x="458.73" y="253.05" width="7.43" height="7.31" fill="#f6a4a5"/>
<rect x="295.20" y="267.67" width="7.43" height="7.31" fill="#f6a4a5"/>
<rect x="310.07" y="267.67" width="37.16" height="7.31" fill="#f6a4a5"/>
<rect x="354.66" y="267.67" width="7.43" height="7.31" fill="#f6a4a5"/>
<rect x="369.53" y="267.67" width="44.60" height="7.31" fill="#ee585b"/>
<rect x="414.13" y="267.67" width="7.43" height="7.31" fill="#fbd6d6"/>
<rect x="421.56" y="267.67" width="22.30" height="7.31" fill="#ee585b"/>
<rect x="443.86" y="267.67" width="7.43" height="7.31" fill="#f6a4a5"/>
<rect x="451.29" y="267.67" width="7.43" height="7.31" fill="#ee585b"/>
<rect x="466.16" y="267.67" width="7.43" height="7.31" fill="#fbd6d6"/>
<rect x="295.20" y="274.98" width="7.43" height="7.31" fill="#f6a4a5"/>
<rect x="302.63" y="274.98" width="7.43" height="7.31" fill="#ee585b"/>
<rect x="317.50" y="274.98" width="7.43" height="7.31" fill="#ffffff"/>
<rect x="324.93" y="274.98" width="7.43" height="7.31" fill="#f6a4a5"/>
<rect x="347.23" y="274.98" width="14.87" height="7.31" fill="#f6a4a5"/>
<rect x="376.96" y="274.98" width="14.87" height="7.31" fill="#f6a4a5"/>
<rect x="391.83" y="274.98" width="7.43" height="7.31" fill="#ee585b"/>
<rect x="399.26" y="274.98" width="7.43" height="7.31" fill="#ffffff"/>
<rect x="406.69" y="274.98" width="7.43" height="7.31" fill="#ee585b"/>
<rect x="414.13" y="274.98" width="14.87" height="7.31" fill="#f6a4a5"/>
<rect x="428.99" y="274.98" width="22.30" height="7.31" fill="#ee585b"/>
<rect x="458.73" y="274.98" width="7.43" height="7.31" fill="#ffffff"/>
<rect x="295.20" y="289.60" width="7.43" height="7.31" fill="#f6a4a5"/>
<rect x="302.63" y="289.60" width="7.43" height="7.31" fill="#4c60b6"/>
<rect x="310.07" y="289.60" width="7.43" height="7.31" fill="#ffffff"/>
<rect x="324.93" y="289.60" width="14.87" height="7.31" fill="#4c60b6"/>
<rect x="347.23" y="289.60" width="7.43" height="7.31" fill="#fbd6d6"/>
<rect x="376.96" y="289.60" width="7.43" height="7.31" fill="#d4d9f0"/>
<rect x="414.13" y="289.60" width="7.43" height="7.31" fill="#d4d9f0"/>
<rect x="421.56" y="289.60" width="7.43" height="7.31" fill="#4c60b6"/>
<rect x="458.73" y="289.60" width="7.43" height="7.31" fill="#4c60b6"/>
<rect x="302.63" y="296.91" width="7.43" height="7.31" fill="#4c60b6"/>
<rect x="310.07" y="296.91" width="14.87" height="7.31" fill="#9ca4d7"/>
<rect x="324.93" y="296.91" width="7.43" height="7.31" fill="#d4d9f0"/>
<rect x="347.23" y="296.91" width="7.43" height="7.31" fill="#9ca4d7"/>
<rect x="369.53" y="296.91" width="7.43" height="7.31" fill="#d4d9f0"/>
<rect x="376.96" y="296.91" width="7.43" height="7.31" fill="#4c60b6"/>
<rect x="384.40" y="296.91" width="7.43" height="7.31" fill="#9ca4d7"/>
<rect x="399.26" y="296.91" width="7.43" height="7.31" fill="#ffffff"/>
<rect x="458.73" y="296.91" width="7.43" height="7.31" fill="#4c60b6"/>
<rect x="466.16" y="304.21" width="7.43" height="7.31" fill="#9ca4d7"/>
<rect x="295.20" y="311.52" width="7.43" height="7.31" fill="#f6a4a5"/>
<rect x="339.80" y="311.52" width="7.43" height="7.31" fill="#ee585b"/>
<rect x="347.23" y="311.52" width="7.43" height="7.31" fill="#4c60b6"/>
<rect x="369.53" y="311.52" width="7.43" height="7.31" fill="#4c60b6"/>
<rect x="391.83" y="311.52" width="7.43" height="7.31" fill="#d4d9f0"/>
<rect x="414.13" y="311.52" width="7.43" height="7.31" fill="#e8161a"/>
<rect x="421.56" y="311.52" width="14.87" height="7.31" fill="#4c60b6"/>
<rect x="436.43" y="311.52" width="7.43" height="7.31" fill="#ffffff"/>
<rect x="451.29" y="311.52" width="7.43" height="7.31" fill="#ffffff"/>
<rect x="302.63" y="318.83" width="14.87" height="7.31" fill="#9ca4d7"/>
<rect x="324.93" y="318.83" width="7.43" height="7.31" fill="#4c60b6"/>
<rect x="339.80" y="318.83" width="7.43" height="7.31" fill="#f6a4a5"/>
<rect x="347.23" y="318.83" width="7.43" height="7.31" fill="#9ca4d7"/>
<rect x="362.10" y="318.83" width="7.43" height="7.31" fill="#9ca4d7"/>
<rect x="369.53" y="318.83" width="7.43" height="7.31" fill="#f6a4a5"/>
<rect x="376.96" y="318.83" width="7.43" height="7.31" fill="#ffffff"/>
<rect x="399.26" y="318.83" width="7.43" height="7.31" fill="#4c60b6"/>
<rect x="421.56" y="318.83" width="7.43" height="7.31" fill="#4c60b6"/>
<rect x="428.99" y="318.83" width="7.43" height="7.31" fill="#9ca4d7"/>
<rect x="436.43" y="318.83" width="7.43" height="7.31" fill="#f6a4a5"/>
<rect x="295.20" y="326.14" width="7.43" height="7.31" fill="#4c60b6"/>
<rect x="310.07" y="326.14" width="7.43" height="7.31" fill="#4c60b6"/>
<rect x="317.50" y="326.14" width="7.43" height="7.31" fill="#9ca4d7"/>
<rect x="339.80" y="326.14" width="7.43" height="7.31" fill="#4c60b6"/>
<rect x="354.66" y="326.14" width="7.43" height="7.31" fill="#ffffff"/>
<rect x="369.53" y="326.14" width="7.43" height="7.31" fill="#4c60b6"/>
<rect x="421.56" y="326.14" width="7.43" height="7.31" fill="#d4d9f0"/>
<rect x="428.99" y="326.14" width="7.43" height="7.31" fill="#4c60b6"/>
<rect x="458.73" y="326.14" width="7.43" height="7.31" fill="#9ca4d7"/>
<rect x="339.80" y="333.45" width="7.43" height="7.31" fill="#4c60b6"/>
<rect x="354.66" y="333.45" width="7.43" height="7.31" fill="#9ca4d7"/>
<rect x="295.20" y="340.76" width="7.43" height="7.31" fill="#ffffff"/>
<rect x="310.07" y="340.76" width="7.43" height="7.31" fill="#9ca4d7"/>
<rect x="317.50" y="340.76" width="7.43" height="7.31" fill="#4c60b6"/>
<rect x="339.80" y="340.76" width="7.43" height="7.31" fill="#9ca4d7"/>
<rect x="354.66" y="340.76" width="7.43" height="7.31" fill="#ffffff"/>
<rect x="376.96" y="340.76" width="7.43" height="7.31" fill="#4c60b6"/>
<rect x="295.20" y="348.07" width="7.43" height="7.31" fill="#d4d9f0"/>
<rect x="310.07" y="348.07" width="7.43" height="7.31" fill="#4c60b6"/>
<rect x="317.50" y="348.07" width="7.43" height="7.31" fill="#9ca4d7"/>
<rect x="332.37" y="348.07" width="7.43" height="7.31" fill="#4c60b6"/>
<rect x="339.80" y="348.07" width="7.43" height="7.31" fill="#9ca4d7"/>
<rect x="347.23" y="348.07" width="7.43" height="7.31" fill="#4c60b6"/>
<rect x="354.66" y="348.07" width="7.43" height="7.31" fill="#f6a4a5"/>
<rect x="376.96" y="348.07" width="7.43" height="7.31" fill="#4c60b6"/>
<rect x="384.40" y="348.07" width="14.87" height="7.31" fill="#9ca4d7"/>
<rect x="399.26" y="348.07" width="14.87" height="7.31" fill="#d4d9f0"/>
<rect x="414.13" y="348.07" width="14.87" height="7.31" fill="#9ca4d7"/>
<rect x="428.99" y="348.07" width="7.43" height="7.31" fill="#ffffff"/>
<rect x="451.29" y="348.07" width="7.43" height="7.31" fill="#9ca4d7"/>
<rect x="466.16" y="348.07" width="7.43" height="7.31" fill="#9ca4d7"/>
<rect x="354.66" y="355.38" width="7.43" height="7.31" fill="#4c60b6"/>
<rect x="332.37" y="362.69" width="7.43" height="7.31" fill="#9ca4d7"/>
<rect x="354.66" y="362.69" width="7.43" height="7.31" fill="#d4d9f0"/>
<rect x="369.53" y="362.69" width="7.43" height="7.31" fill="#4c60b6"/>
<rect x="354.66" y="370.00" width="7.43" height="7.31" fill="#4c60b6"/>
<rect x="295.20" y="377.31" width="7.43" height="7.31" fill="#4c60b6"/>
<rect x="354.66" y="377.31" width="7.43" height="7.31" fill="#ffffff"/>
<rect x="295.20" y="384.61" width="7.43" height="7.31" fill="#fbd6d6"/>
<rect x="302.63" y="384.61" width="7.43" height="7.31" fill="#f6a4a5"/>
<rect x="310.07" y="384.61" width="14.87" height="7.31" fill="#ffffff"/>
<rect x="324.93" y="384.61" width="14.87" height="7.31" fill="#4c60b6"/>
<rect x="339.80" y="384.61" width="7.43" height="7.31" fill="#9ca4d7"/>
<rect x="347.23" y="384.61" width="7.43" height="7.31" fill="#ffffff"/>
<rect x="354.66" y="384.61" width="7.43" height="7.31" fill="#f6a4a5"/>
<rect x="376.96" y="384.61" width="7.43" height="7.31" fill="#ffffff"/>
<rect x="384.40" y="384.61" width="7.43" height="7.31" fill="#d4d9f0"/>
<rect x="391.83" y="384.61" width="7.43" height="7.31" fill="#9ca4d7"/>
<rect x="399.26" y="384.61" width="7.43" height="7.31" fill="#d4d9f0"/>
<rect x="406.69" y="384.61" width="14.87" height="7.31" fill="#ffffff"/>
<rect x="428.99" y="384.61" width="7.43" height="7.31" fill="#9ca4d7"/>
<rect x="443.86" y="384.61" width="7.43" height="7.31" fill="#9ca4d7"/>
<rect x="451.29" y="384.61" width="7.43" height="7.31" fill="#4c60b6"/>
<rect x="458.73" y="384.61" width="7.43" height="7.31" fill="#ffffff"/>
<rect x="295.20" y="391.92" width="14.87" height="7.31" fill="#9ca4d7"/>
<rect x="310.07" y="391.92" width="7.43" height="7.31" fill="#ffffff"/>
<rect x="317.50" y="391.92" width="7.43" height="7.31" fill="#9ca4d7"/>
<rect x="339.80" y="391.92" width="7.43" height="7.31" fill="#9ca4d7"/>
<rect x="347.23" y="391.92" width="7.43" height="7.31" fill="#4c60b6"/>
<rect x="354.66" y="391.92" width="7.43" height="7.31" fill="#d4d9f0"/>
<rect x="362.10" y="391.92" width="7.43" height="7.31" fill="#ffffff"/>
<rect x="369.53" y="391.92" width="7.43" height="7.31" fill="#fbd6d6"/>
<rect x="376.96" y="391.92" width="7.43" height="7.31" fill="#9ca4d7"/>
<rect x="399.26" y="391.92" width="7.43" height="7.31" fill="#ffffff"/>
<rect x="421.56" y="391.92" width="7.43" height="7.31" fill="#4c60b6"/>
<rect x="428.99" y="391.92" width="7.43" height="7.31" fill="#9ca4d7"/>
<rect x="451.29" y="391.92" width="7.43" height="7.31" fill="#4c60b6"/>
<rect x="458.73" y="391.92" width="7.43" height="7.31" fill="#9ca4d7"/>
<rect x="295.20" y="399.23" width="7.43" height="7.31" fill="#d4d9f0"/>
<rect x="310.07" y="399.23" width="7.43" height="7.31" fill="#4c60b6"/>
<rect x="317.50" y="399.23" width="7.43" height="7.31" fill="#d4d9f0"/>
<rect x="332.37" y="399.23" width="14.87" height="7.31" fill="#9ca4d7"/>
<rect x="347.23" y="399.23" width="7.43" height="7.31" fill="#4c60b6"/>
<rect x="354.66" y="399.23" width="7.43" height="7.31" fill="#f6a4a5"/>
<rect x="362.10" y="399.23" width="14.87" height="7.31" fill="#4c60b6"/>
<rect x="376.96" y="399.23" width="7.43" height="7.31" fill="#9ca4d7"/>
<rect x="384.40" y="399.23" width="14.87" height="7.31" fill="#d4d9f0"/>
<rect x="399.26" y="399.23" width="14.87" height="7.31" fill="#9ca4d7"/>
<rect x="414.13" y="399.23" width="7.43" height="7.31" fill="#fbd6d6"/>
<rect x="421.56" y="399.23" width="7.43" height="7.31" fill="#4c60b6"/>
<rect x="436.43" y="399.23" width="22.30" height="7.31" fill="#d4d9f0"/>
<rect x="458.73" y="399.23" width="7.43" height="7.31" fill="#9ca4d7"/>
<rect x="466.16" y="399.23" width="7.43" height="7.31" fill="#4c60b6"/>
<rect x="295.20" y="406.54" width="7.43" height="7.31" fill="#d4d9f0"/>
<rect x="310.07" y="406.54" width="7.43" height="7.31" fill="#4c60b6"/>
<rect x="354.66" y="406.54" width="7.43" height="7.31" fill="#4c60b6"/>
<rect x="384.40" y="406.54" width="7.43" height="7.31" fill="#4c60b6"/>
<rect x="354.66" y="413.85" width="7.43" height="7.31" fill="#4c60b6"/>
<rect x="354.66" y="421.16" width="7.43" height="7.31" fill="#4c60b6"/>
<rect x="443.86" y="421.16" width="7.43" height="7.31" fill="#9ca4d7"/>
<rect x="354.66" y="428.47" width="7.43" height="7.31" fill="#9ca4d7"/>
<rect x="354.66" y="450.39" width="7.43" height="7.31" fill="#ffffff"/>
<rect x="362.10" y="450.39" width="7.43" height="7.31" fill="#4c60b6"/>
<rect x="354.66" y="457.70" width="7.43" height="7.31" fill="#4c60b6"/>
<rect x="376.96" y="457.70" width="7.43" height="7.31" fill="#4c60b6"/>
<rect x="354.66" y="465.01" width="7.43" height="7.31" fill="#4c60b6"/>
<rect x="295.20" y="472.32" width="7.43" height="7.31" fill="#ee585b"/>
<rect x="302.63" y="472.32" width="7.43" height="7.31" fill="#9ca4d7"/>
<rect x="310.07" y="472.32" width="7.43" height="7.31" fill="#ffffff"/>
<rect x="317.50" y="472.32" width="14.87" height="7.31" fill="#d4d9f0"/>
<rect x="332.37" y="472.32" width="14.87" height="7.31" fill="#9ca4d7"/>
<rect x="347.23" y="472.32" width="7.43" height="7.31" fill="#ffffff"/>
<rect x="354.66" y="472.32" width="7.43" height="7.31" fill="#ee585b"/>
<rect x="362.10" y="472.32" width="7.43" height="7.31" fill="#fbd6d6"/>
<rect x="369.53" y="472.32" width="7.43" height="7.31" fill="#9ca4d7"/>
<rect x="376.96" y="472.32" width="7.43" height="7.31" fill="#d4d9f0"/>
<rect x="384.40" y="472.32" width="7.43" height="7.31" fill="#ffffff"/>
<rect x="391.83" y="472.32" width="7.43" height="7.31" fill="#9ca4d7"/>
<rect x="399.26" y="472.32" width="7.43" height="7.31" fill="#4c60b6"/>
<rect x="406.69" y="472.32" width="7.43" height="7.31" fill="#9ca4d7"/>
<rect x="414.13" y="472.32" width="7.43" height="7.31" fill="#f6a4a5"/>
<rect x="421.56" y="472.32" width="7.43" height="7.31" fill="#ee585b"/>
<rect x="436.43" y="472.32" width="7.43" height="7.31" fill="#d4d9f0"/>
<rect x="451.29" y="472.32" width="22.30" height="7.31" fill="#9ca4d7"/>
<rect x="302.63" y="479.63" width="7.43" height="7.31" fill="#fbd6d6"/>
<rect x="310.07" y="479.63" width="7.43" height="7.31" fill="#ffffff"/>
<rect x="332.37" y="479.63" width="14.87" height="7.31" fill="#fbd6d6"/>
<rect x="347.23" y="479.63" width="7.43" height="7.31" fill="#4c60b6"/>
<rect x="354.66" y="479.63" width="7.43" height="7.31" fill="#9ca4d7"/>
<rect x="362.10" y="479.63" width="7.43" height="7.31" fill="#ee585b"/>
<rect x="369.53" y="479.63" width="7.43" height="7.31" fill="#ffffff"/>
<rect x="376.96" y="479.63" width="7.43" height="7.31" fill="#4c60b6"/>
<rect x="391.83" y="479.63" width="14.87" height="7.31" fill="#9ca4d7"/>
<rect x="428.99" y="479.63" width="7.43" height="7.31" fill="#d4d9f0"/>
<rect x="436.43" y="479.63" width="7.43" height="7.31" fill="#4c60b6"/>
<rect x="443.86" y="479.63" width="7.43" height="7.31" fill="#ffffff"/>
<rect x="451.29" y="479.63" width="7.43" height="7.31" fill="#9ca4d7"/>
<rect x="458.73" y="479.63" width="7.43" height="7.31" fill="#4c60b6"/>
<rect x="466.16" y="479.63" width="7.43" height="7.31" fill="#9ca4d7"/>
<rect x="354.66" y="486.94" width="7.43" height="7.31" fill="#4c60b6"/>
<rect x="295.20" y="494.25" width="7.43" height="7.31" fill="#d4d9f0"/>
<rect x="302.63" y="494.25" width="7.43" height="7.31" fill="#9ca4d7"/>
<rect x="324.93" y="494.25" width="7.43" height="7.31" fill="#9ca4d7"/>
<rect x="332.37" y="494.25" width="7.43" height="7.31" fill="#fbd6d6"/>
<rect x="339.80" y="494.25" width="7.43" height="7.31" fill="#d4d9f0"/>
<rect x="354.66" y="494.25" width="7.43" height="7.31" fill="#9ca4d7"/>
<rect x="362.10" y="494.25" width="7.43" height="7.31" fill="#fbd6d6"/>
<rect x="369.53" y="494.25" width="7.43" height="7.31" fill="#d4d9f0"/>
<rect x="384.40" y="494.25" width="22.30" height="7.31" fill="#9ca4d7"/>
<rect x="406.69" y="494.25" width="7.43" height="7.31" fill="#ffffff"/>
<rect x="414.13" y="494.25" width="7.43" height="7.31" fill="#d4d9f0"/>
<rect x="421.56" y="494.25" width="7.43" height="7.31" fill="#9ca4d7"/>
<rect x="428.99" y="494.25" width="7.43" height="7.31" fill="#4c60b6"/>
<rect x="436.43" y="494.25" width="22.30" height="7.31" fill="#d4d9f0"/>
<rect x="458.73" y="494.25" width="7.43" height="7.31" fill="#4c60b6"/>
<rect x="466.16" y="494.25" width="7.43" height="7.31" fill="#ffffff"/>
<rect x="302.63" y="501.56" width="14.87" height="7.31" fill="#4c60b6"/>
<rect x="324.93" y="501.56" width="7.43" height="7.31" fill="#4c60b6"/>
<rect x="332.37" y="501.56" width="14.87" height="7.31" fill="#9ca4d7"/>
<rect x="347.23" y="501.56" width="14.87" height="7.31" fill="#4c60b6"/>
<rect x="362.10" y="501.56" width="7.43" height="7.31" fill="#ffffff"/>
<rect x="369.53" y="501.56" width="7.43" height="7.31" fill="#9ca4d7"/>
<rect x="376.96" y="501.56" width="7.43" height="7.31" fill="#4c60b6"/>
<rect x="324.93" y="508.87" width="7.43" height="7.31" fill="#ffffff"/>
<rect x="339.80" y="508.87" width="7.43" height="7.31" fill="#9ca4d7"/>
<rect x="369.53" y="508.87" width="7.43" height="7.31" fill="#9ca4d7"/>
<rect x="384.40" y="508.87" width="7.43" height="7.31" fill="#d4d9f0"/>
<rect x="391.83" y="508.87" width="7.43" height="7.31" fill="#9ca4d7"/>
<rect x="399.26" y="508.87" width="7.43" height="7.31" fill="#ffffff"/>
<rect x="421.56" y="508.87" width="7.43" height="7.31" fill="#4c60b6"/>
<rect x="428.99" y="508.87" width="7.43" height="7.31" fill="#d4d9f0"/>
<rect x="436.43" y="508.87" width="7.43" height="7.31" fill="#ee585b"/>
<rect x="443.86" y="508.87" width="7.43" height="7.31" fill="#fbd6d6"/>
<rect x="451.29" y="508.87" width="7.43" height="7.31" fill="#4c60b6"/>
<rect x="458.73" y="508.87" width="7.43" height="7.31" fill="#d4d9f0"/>
<rect x="466.16" y="508.87" width="7.43" height="7.31" fill="#9ca4d7"/>
<rect x="354.66" y="516.18" width="7.43" height="7.31" fill="#fbd6d6"/>
<rect x="295.20" y="523.49" width="7.43" height="7.31" fill="#9ca4d7"/>
<rect x="302.63" y="523.49" width="7.43" height="7.31" fill="#ffffff"/>
<rect x="310.07" y="523.49" width="7.43" height="7.31" fill="#fbd6d6"/>
<rect x="317.50" y="523.49" width="7.43" height="7.31" fill="#f6a4a5"/>
<rect x="324.93" y="523.49" width="7.43" height="7.31" fill="#9ca4d7"/>
<rect x="332.37" y="523.49" width="7.43" height="7.31" fill="#4c60b6"/>
<rect x="339.80" y="523.49" width="7.43" height="7.31" fill="#d4d9f0"/>
<rect x="347.23" y="523.49" width="7.43" height="7.31" fill="#9ca4d7"/>
<rect x="354.66" y="523.49" width="7.43" height="7.31" fill="#fbd6d6"/>
<rect x="362.10" y="523.49" width="7.43" height="7.31" fill="#9ca4d7"/>
<rect x="369.53" y="523.49" width="7.43" height="7.31" fill="#ffffff"/>
<rect x="376.96" y="523.49" width="7.43" height="7.31" fill="#9ca4d7"/>
<rect x="384.40" y="523.49" width="7.43" height="7.31" fill="#ffffff"/>
<rect x="391.83" y="523.49" width="7.43" height="7.31" fill="#9ca4d7"/>
<rect x="399.26" y="523.49" width="7.43" height="7.31" fill="#fbd6d6"/>
<rect x="406.69" y="523.49" width="7.43" height="7.31" fill="#ffffff"/>
<rect x="414.13" y="523.49" width="7.43" height="7.31" fill="#9ca4d7"/>
<rect x="421.56" y="523.49" width="7.43" height="7.31" fill="#ffffff"/>
<rect x="428.99" y="523.49" width="7.43" height="7.31" fill="#d4d9f0"/>
<rect x="436.43" y="523.49" width="7.43" height="7.31" fill="#9ca4d7"/>
<rect x="443.86" y="523.49" width="7.43" height="7.31" fill="#d4d9f0"/>
<rect x="451.29" y="523.49" width="7.43" height="7.31" fill="#fbd6d6"/>
<rect x="458.73" y="523.49" width="7.43" height="7.31" fill="#9ca4d7"/>
<rect x="466.16" y="523.49" width="7.43" height="7.31" fill="#d4d9f0"/>
</g>
<text x="477.40" y="54.75" font-size="7.7" fill="#0c0c0c">ROR1</text>
<text x="477.40" y="62.06" font-size="7.7" fill="#0c0c0c">WNT3</text>
<text x="477.40" y="69.37" font-size="7.7" fill="#0c0c0c">TTN</text>
<text x="477.40" y="76.68" font-size="7.7" fill="#0c0c0c">HDAC9</text>
<text x="477.40" y="83.99" font-size="7.7" fill="#0c0c0c">PTPN12</text>
<text x="477.40" y="91.30" font-size="7.7" fill="#0c0c0c">CD200</text>
<text x="477.40" y="98.61" font-size="7.7" fill="#0c0c0c">NLRP1</text>
<text x="477.40" y="105.92" font-size="7.7" fill="#0c0c0c">TXNIP</text>
<text x="477.40" y="113.23" font-size="7.7" fill="#0c0c0c">CD23</text>
<text x="477.40" y="120.54" font-size="7.7" fill="#0c0c0c">BIN2</text>
<text x="477.40" y="127.84" font-size="7.7" fill="#0c0c0c">SELL</text>
<text x="477.40" y="135.15" font-size="7.7" fill="#0c0c0c">FGR</text>
<text x="477.40" y="142.46" font-size="7.7" fill="#0c0c0c">ADAM28</text>
<text x="477.40" y="149.77" font-size="7.7" fill="#0c0c0c">IL4R</text>
<text x="477.40" y="157.08" font-size="7.7" fill="#0c0c0c">IL24</text>
<text x="477.40" y="164.39" font-size="7.7" fill="#0c0c0c">ALOX5</text>
<text x="477.40" y="171.70" font-size="7.7" fill="#0c0c0c">RKCB</text>
<text x="477.40" y="179.01" font-size="7.7" fill="#0c0c0c">CD37</text>
<text x="477.40" y="186.32" font-size="7.7" fill="#0c0c0c">MAP3K1</text>
<text x="477.40" y="193.63" font-size="7.7" fill="#0c0c0c">EVI2B</text>
<text x="477.40" y="200.93" font-size="7.7" fill="#0c0c0c">DGKA</text>
<text x="477.40" y="208.24" font-size="7.7" fill="#0c0c0c">IL10RA</text>
<text x="477.40" y="215.55" font-size="7.7" fill="#0c0c0c">FCGR2B</text>
<text x="477.40" y="222.86" font-size="7.7" fill="#0c0c0c">ATXN1</text>
<text x="477.40" y="230.17" font-size="7.7" fill="#0c0c0c">CD5</text>
<text x="477.40" y="237.48" font-size="7.7" fill="#0c0c0c">PTPN22</text>
<text x="477.40" y="244.79" font-size="7.7" fill="#0c0c0c">ISCU</text>
<text x="477.40" y="252.10" font-size="7.7" fill="#0c0c0c">TLK1</text>
<text x="477.40" y="259.41" font-size="7.7" fill="#0c0c0c">N4BP2L1</text>
<text x="477.40" y="266.72" font-size="7.7" fill="#0c0c0c">UBE2I</text>
<text x="477.40" y="274.02" font-size="7.7" fill="#0c0c0c">SIK3</text>
<text x="477.40" y="281.33" font-size="7.7" fill="#0c0c0c">CGRRF1</text>
<text x="477.40" y="288.64" font-size="7.7" fill="#0c0c0c">CD10</text>
<text x="477.40" y="295.95" font-size="7.7" fill="#0c0c0c">CD38</text>
<text x="477.40" y="303.26" font-size="7.7" fill="#0c0c0c">MYBL1</text>
<text x="477.40" y="310.57" font-size="7.7" fill="#0c0c0c">RGS13</text>
<text x="477.40" y="317.88" font-size="7.7" fill="#0c0c0c">NBK</text>
<text x="477.40" y="325.19" font-size="7.7" fill="#0c0c0c">TTG2</text>
<text x="477.40" y="332.50" font-size="7.7" fill="#0c0c0c">FASN</text>
<text x="477.40" y="339.81" font-size="7.7" fill="#0c0c0c">RRM2</text>
<text x="477.40" y="347.11" font-size="7.7" fill="#0c0c0c">KIAA0101</text>
<text x="477.40" y="354.42" font-size="7.7" fill="#0c0c0c">TK1</text>
<text x="477.40" y="361.73" font-size="7.7" fill="#0c0c0c">CDK1</text>
<text x="477.40" y="369.04" font-size="7.7" fill="#0c0c0c">FOXM1</text>
<text x="477.40" y="376.35" font-size="7.7" fill="#0c0c0c">DLGAP5</text>
<text x="477.40" y="383.66" font-size="7.7" fill="#0c0c0c">TPX2</text>
<text x="477.40" y="390.97" font-size="7.7" fill="#0c0c0c">DHFR</text>
<text x="477.40" y="398.28" font-size="7.7" fill="#0c0c0c">H2AFX</text>
<text x="477.40" y="405.59" font-size="7.7" fill="#0c0c0c">MCM4</text>
<text x="477.40" y="412.90" font-size="7.7" fill="#0c0c0c">KIF2C</text>
<text x="477.40" y="420.20" font-size="7.7" fill="#0c0c0c">SPC25</text>
<text x="477.40" y="427.51" font-size="7.7" fill="#0c0c0c">CENPA</text>
<text x="477.40" y="434.82" font-size="7.7" fill="#0c0c0c">BUB1</text>
<text x="477.40" y="442.13" font-size="7.7" fill="#0c0c0c">CCNE2</text>
<text x="477.40" y="449.44" font-size="7.7" fill="#0c0c0c">SPAG5</text>
<text x="477.40" y="456.75" font-size="7.7" fill="#0c0c0c">NCAPH</text>
<text x="477.40" y="464.06" font-size="7.7" fill="#0c0c0c">KIF11</text>
<text x="477.40" y="471.37" font-size="7.7" fill="#0c0c0c">TTK</text>
<text x="477.40" y="478.68" font-size="7.7" fill="#0c0c0c">PAICS</text>
<text x="477.40" y="485.99" font-size="7.7" fill="#0c0c0c">LMNB1</text>
<text x="477.40" y="493.29" font-size="7.7" fill="#0c0c0c">LRP8</text>
<text x="477.40" y="500.60" font-size="7.7" fill="#0c0c0c">MCM6</text>
<text x="477.40" y="507.91" font-size="7.7" fill="#0c0c0c">SLC39A8</text>
<text x="477.40" y="515.22" font-size="7.7" fill="#0c0c0c">TUBB1</text>
<text x="477.40" y="522.53" font-size="7.7" fill="#0c0c0c">AURKB</text>
<text x="477.40" y="529.84" font-size="7.7" fill="#0c0c0c">SPHK2</text>
<text x="336.20" y="541.00" font-size="7.9" text-anchor="middle" font-weight="bold" textLength="84.70" lengthAdjust="spacingAndGlyphs" fill="#27407f">underexpressed genes</text>
<text x="336.20" y="550.30" font-size="7.9" text-anchor="middle" font-weight="bold" textLength="74.60" lengthAdjust="spacingAndGlyphs" fill="#27407f">in CLL vs DLCL and</text>
<text x="336.20" y="559.60" font-size="7.9" text-anchor="middle" font-weight="bold" textLength="66.30" lengthAdjust="spacingAndGlyphs" fill="#27407f">normal GC B cells</text>
<text x="467.00" y="541.00" font-size="7.9" text-anchor="middle" font-weight="bold" textLength="79.40" lengthAdjust="spacingAndGlyphs" fill="#a3183c">overexpressed genes</text>
<text x="467.00" y="550.30" font-size="7.9" text-anchor="middle" font-weight="bold" textLength="72.70" lengthAdjust="spacingAndGlyphs" fill="#a3183c">in CLL vs DLCL and</text>
<text x="467.00" y="559.60" font-size="7.9" text-anchor="middle" font-weight="bold" textLength="66.50" lengthAdjust="spacingAndGlyphs" fill="#a3183c">normal GC B cells</text>
<rect x="322" y="565" width="125.3" height="10.3" fill="url(#cb)"/>
<text x="323.30" y="586.10" font-size="7.6" text-anchor="middle" fill="#0c0c0c">-1</text>
<text x="384.40" y="586.10" font-size="7.6" text-anchor="middle" fill="#0c0c0c">0</text>
<text x="446.20" y="586.10" font-size="7.6" text-anchor="middle" fill="#0c0c0c">1</text>
<text x="74.50" y="694.30" font-size="7.9" text-anchor="middle" font-weight="bold" textLength="85.00" lengthAdjust="spacingAndGlyphs" fill="#27407f">underexpressed genes</text>
<text x="74.50" y="703.90" font-size="7.9" text-anchor="middle" font-weight="bold" textLength="90.20" lengthAdjust="spacingAndGlyphs" fill="#27407f">in CLL vs normal B cells</text>
<text x="201.60" y="694.30" font-size="7.9" text-anchor="middle" font-weight="bold" textLength="80.40" lengthAdjust="spacingAndGlyphs" fill="#a3183c">overexpressed genes</text>
<text x="201.60" y="703.90" font-size="7.9" text-anchor="middle" font-weight="bold" textLength="90.20" lengthAdjust="spacingAndGlyphs" fill="#a3183c">in CLL vs normal B cells</text>
<rect x="66.2" y="709.5" width="125.1" height="10.4" fill="url(#cb)"/>
<text x="67.80" y="731.20" font-size="7.6" text-anchor="middle" fill="#0c0c0c">-1</text>
<text x="129.00" y="731.20" font-size="7.6" text-anchor="middle" fill="#0c0c0c">0</text>
<text x="191.60" y="731.20" font-size="7.6" text-anchor="middle" fill="#0c0c0c">1</text>
<path d="M340,605V721.2H492.8" fill="none" stroke="#000" stroke-width="1.35"/>
<path d="M336,721.20H340M336,692.62H340M336,664.05H340M336,635.48H340M336,606.90H340M378.6,721.2v3.4M455,721.2v3.4" stroke="#111" stroke-width="1" fill="none"/>
<text x="334.20" y="723.80" font-size="7.3" text-anchor="end" fill="#0c0c0c">0</text>
<text x="334.20" y="695.23" font-size="7.3" text-anchor="end" fill="#0c0c0c">0.5</text>
<text x="334.20" y="666.65" font-size="7.3" text-anchor="end" fill="#0c0c0c">1.0</text>
<text x="334.20" y="638.08" font-size="7.3" text-anchor="end" fill="#0c0c0c">1.5</text>
<text x="334.20" y="609.50" font-size="7.3" text-anchor="end" fill="#0c0c0c">2.0</text>
<text transform="translate(305.4,662.2) rotate(-90)" font-size="8.8" text-anchor="middle" fill="#0c0c0c" textLength="70.4" lengthAdjust="spacingAndGlyphs"><tspan font-style="italic">TCL1A</tspan> expression</text>
<text transform="translate(320.00,662.80) rotate(-90)" font-size="8.8" text-anchor="middle" textLength="26.40" lengthAdjust="spacingAndGlyphs" fill="#0c0c0c">(Log2)</text>
<text x="411.2" y="616.2" font-size="7.2" fill="#0c0c0c"><tspan font-style="italic">p</tspan>=0.7</text>
<path d="M352.7,658.4H403.6M365.9,642.7H391.3M365.9,674.3H391.3M378.6,642.7V674.3" stroke="#000" stroke-width="1.35" fill="none"/>
<circle cx="375.4" cy="631.6" r="2.05" fill="#0a0a0a"/>
<circle cx="381.2" cy="631.6" r="2.05" fill="#0a0a0a"/>
<circle cx="373.5" cy="639.7" r="2.05" fill="#0a0a0a"/>
<circle cx="378.6" cy="641.3" r="2.05" fill="#0a0a0a"/>
<circle cx="383.2" cy="639.7" r="2.05" fill="#0a0a0a"/>
<circle cx="375.8" cy="646.1" r="2.05" fill="#0a0a0a"/>
<circle cx="380.9" cy="652.8" r="2.05" fill="#0a0a0a"/>
<circle cx="373.5" cy="672" r="2.05" fill="#0a0a0a"/>
<circle cx="383.2" cy="674.3" r="2.05" fill="#0a0a0a"/>
<circle cx="378.6" cy="677.3" r="2.05" fill="#0a0a0a"/>
<circle cx="378.6" cy="684.7" r="2.05" fill="#0a0a0a"/>
<circle cx="378.6" cy="708.9" r="2.05" fill="#0a0a0a"/>
<path d="M429.6,662.7H480.1M442,649.6H468.1M442,674.8H468.1M455,649.6V674.8" stroke="#000" stroke-width="1.35" fill="none"/>
<rect x="443.75" y="643.65" width="3.5" height="3.5" fill="#0a0a0a"/>
<rect x="448.35" y="644.85" width="3.5" height="3.5" fill="#0a0a0a"/>
<rect x="453.25" y="645.95" width="3.5" height="3.5" fill="#0a0a0a"/>
<rect x="458.25" y="644.35" width="3.5" height="3.5" fill="#0a0a0a"/>
<rect x="463.35" y="642.95" width="3.5" height="3.5" fill="#0a0a0a"/>
<rect x="448.35" y="654.55" width="3.5" height="3.5" fill="#0a0a0a"/>
<rect x="453.25" y="658.25" width="3.5" height="3.5" fill="#0a0a0a"/>
<rect x="458.25" y="657.05" width="3.5" height="3.5" fill="#0a0a0a"/>
<rect x="458.25" y="678.35" width="3.5" height="3.5" fill="#0a0a0a"/>
<rect x="448.35" y="681.35" width="3.5" height="3.5" fill="#0a0a0a"/>
<rect x="453.25" y="682.45" width="3.5" height="3.5" fill="#0a0a0a"/>
<rect x="453.25" y="700.75" width="3.5" height="3.5" fill="#0a0a0a"/>
<text x="362.6" y="736.0" font-size="7.6" fill="#0c0c0c">ROR1<tspan dy="-3.2" font-size="5.2">Neg</tspan></text>
<text x="439.0" y="736.0" font-size="7.6" fill="#0c0c0c">ROR1<tspan dy="-3.2" font-size="5.2">Pos</tspan></text>
</g>
</svg>
</body></html>
